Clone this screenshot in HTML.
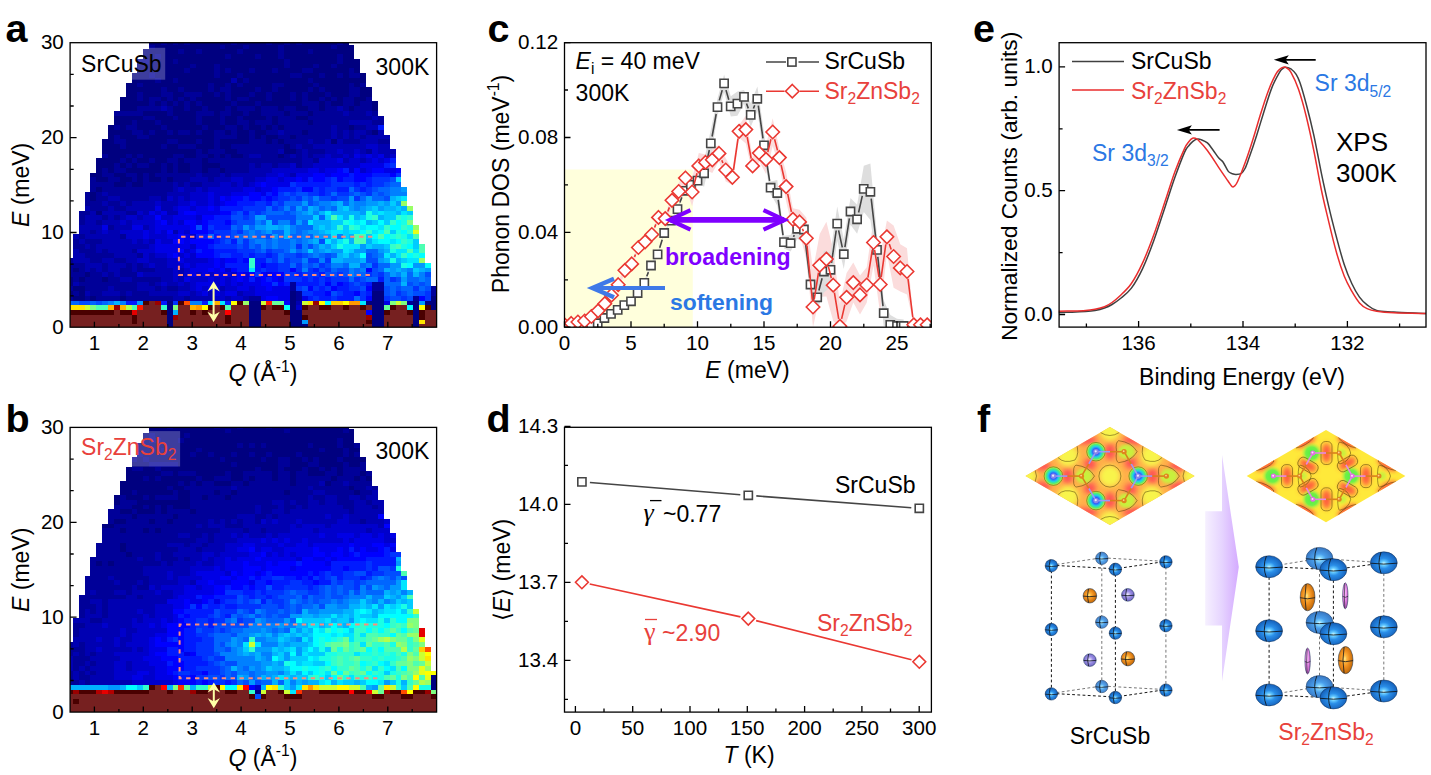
<!DOCTYPE html>
<html><head><meta charset="utf-8"><title>figure</title>
<style>
html,body{margin:0;padding:0;background:#fff;overflow:hidden}
svg{display:block}
text{font-family:"Liberation Sans",sans-serif}
</style></head><body>
<svg width="1431" height="775" viewBox="0 0 1431 775">
<rect width="1431" height="775" fill="#fff"/>
<!-- panel a -->
<clipPath id="hc1"><rect x="70.1" y="42.7" width="366.5" height="284.5"/></clipPath>
<g clip-path="url(#hc1)" shape-rendering="crispEdges">
<path fill="#000080" d="M167 324h6v5h-6zM249 324h12v5h-12zM290 324h18v5h-18zM372 324h12v5h-12zM413 324h6v5h-6zM167 320h6v4h-6zM249 320h12v4h-12zM290 320h12v4h-12zM372 320h12v4h-12zM413 320h6v4h-6zM167 315h6v5h-6zM249 315h12v5h-12zM290 315h12v5h-12zM372 315h12v5h-12zM413 315h6v5h-6zM167 310h6v5h-6zM249 310h12v5h-12zM290 310h12v5h-12zM372 310h12v5h-12zM413 310h6v5h-6zM167 305h6v5h-6zM249 305h12v5h-12zM290 305h6v5h-6zM372 305h12v5h-12zM413 305h6v5h-6zM431 305h6v5h-6zM167 301h6v4h-6zM249 301h12v4h-12zM290 301h6v4h-6zM366 301h18v4h-18zM413 301h6v4h-6zM425 301h12v4h-12zM73 296h12v5h-12zM90 296h6v5h-6zM120 296h6v5h-6zM290 296h6v5h-6zM372 296h12v5h-12zM431 296h6v5h-6zM67 291h6v5h-6zM79 291h6v5h-6zM290 291h6v5h-6zM372 291h12v5h-12zM73 286h12v5h-12zM67 282h6v4h-6zM67 277h6v5h-6zM79 277h6v5h-6zM102 277h6v5h-6zM85 272h5v5h-5zM73 268h6v4h-6zM96 211h6v4h-6zM90 196h6v5h-6zM90 192h6v4h-6zM96 187h6v5h-6zM114 182h12v5h-12zM132 182h11v5h-11zM96 177h12v5h-12zM120 177h12v5h-12zM137 177h6v5h-6zM149 177h12v5h-12zM167 177h6v5h-6zM90 173h12v4h-12zM114 173h12v4h-12zM137 173h6v4h-6zM149 173h6v4h-6zM96 168h6v5h-6zM108 168h6v5h-6zM126 168h35v5h-35zM167 168h6v5h-6zM178 168h12v5h-12zM202 168h6v5h-6zM220 168h5v5h-5zM96 163h18v5h-18zM120 163h6v5h-6zM132 163h5v5h-5zM149 163h12v5h-12zM167 163h6v5h-6zM178 163h12v5h-12zM202 163h18v5h-18zM96 158h24v5h-24zM126 158h6v5h-6zM137 158h12v5h-12zM155 158h12v5h-12zM178 158h6v5h-6zM202 158h6v5h-6zM108 154h18v4h-18zM132 154h5v4h-5zM143 154h30v4h-30zM184 154h12v4h-12zM208 154h6v4h-6zM220 154h5v4h-5zM231 154h12v4h-12zM278 154h6v4h-6zM102 149h94v5h-94zM202 149h6v5h-6zM225 149h12v5h-12zM284 149h12v5h-12zM102 144h18v5h-18zM126 144h35v5h-35zM167 144h11v5h-11zM196 144h18v5h-18zM220 144h11v5h-11zM284 144h6v5h-6zM102 139h12v5h-12zM126 139h41v5h-41zM178 139h18v5h-18zM202 139h12v5h-12zM220 139h29v5h-29zM266 139h6v5h-6zM278 139h6v5h-6zM331 139h6v5h-6zM108 135h6v4h-6zM120 135h17v4h-17zM149 135h65v4h-65zM237 135h12v4h-12zM255 135h6v4h-6zM266 135h12v4h-12zM290 135h6v4h-6zM108 130h24v5h-24zM143 130h6v5h-6zM155 130h12v5h-12zM173 130h5v5h-5zM190 130h6v5h-6zM202 130h12v5h-12zM225 130h6v5h-6zM237 130h12v5h-12zM255 130h11v5h-11zM302 130h6v5h-6zM372 130h6v5h-6zM108 125h6v5h-6zM120 125h6v5h-6zM137 125h24v5h-24zM167 125h35v5h-35zM208 125h17v5h-17zM237 125h6v5h-6zM249 125h12v5h-12zM266 125h6v5h-6zM278 125h6v5h-6zM349 125h5v5h-5zM114 120h18v5h-18zM137 120h18v5h-18zM161 120h35v5h-35zM202 120h18v5h-18zM225 120h12v5h-12zM249 120h6v5h-6zM272 120h6v5h-6zM308 120h5v5h-5zM114 116h29v4h-29zM155 116h18v4h-18zM178 116h18v4h-18zM202 116h18v4h-18zM225 116h12v4h-12zM243 116h23v4h-23zM272 116h6v4h-6zM296 116h12v4h-12zM143 111h24v5h-24zM173 111h23v5h-23zM214 111h6v5h-6zM231 111h12v5h-12zM249 111h12v5h-12zM284 111h6v5h-6zM308 111h5v5h-5zM120 106h17v5h-17zM173 106h11v5h-11zM190 106h12v5h-12zM208 106h17v5h-17zM231 106h6v5h-6zM255 106h6v5h-6zM278 106h6v5h-6zM296 106h12v5h-12zM319 106h6v5h-6zM349 106h5v5h-5zM372 106h6v5h-6zM120 101h29v5h-29zM155 101h6v5h-6zM167 101h6v5h-6zM178 101h6v5h-6zM190 101h6v5h-6zM202 101h29v5h-29zM237 101h18v5h-18zM261 101h41v5h-41zM319 101h6v5h-6zM331 101h12v5h-12zM354 101h6v5h-6zM372 101h6v5h-6zM120 97h17v4h-17zM143 97h6v4h-6zM161 97h6v4h-6zM173 97h5v4h-5zM184 97h6v4h-6zM196 97h29v4h-29zM231 97h6v4h-6zM249 97h17v4h-17zM272 97h18v4h-18zM296 97h6v4h-6zM308 97h11v4h-11zM325 97h6v4h-6zM337 97h6v4h-6zM354 97h12v4h-12zM126 92h11v5h-11zM143 92h18v5h-18zM173 92h11v5h-11zM202 92h12v5h-12zM220 92h5v5h-5zM231 92h18v5h-18zM255 92h11v5h-11zM272 92h18v5h-18zM296 92h6v5h-6zM308 92h17v5h-17zM331 92h18v5h-18zM360 92h12v5h-12zM126 87h35v5h-35zM167 87h11v5h-11zM184 87h24v5h-24zM214 87h6v5h-6zM231 87h24v5h-24zM261 87h11v5h-11zM278 87h30v5h-30zM313 87h6v5h-6zM325 87h24v5h-24zM360 87h12v5h-12zM126 83h11v4h-11zM143 83h65v4h-65zM214 83h11v4h-11zM231 83h6v4h-6zM243 83h29v4h-29zM284 83h29v4h-29zM319 83h30v4h-30zM354 83h6v4h-6zM132 78h23v5h-23zM161 78h12v5h-12zM178 78h53v5h-53zM237 78h6v5h-6zM249 78h59v5h-59zM313 78h53v5h-53zM132 73h17v5h-17zM155 73h59v5h-59zM220 73h17v5h-17zM243 73h47v5h-47zM302 73h17v5h-17zM325 73h12v5h-12zM343 73h6v5h-6zM360 73h6v5h-6zM137 68h47v5h-47zM190 68h24v5h-24zM220 68h5v5h-5zM231 68h18v5h-18zM255 68h17v5h-17zM278 68h24v5h-24zM313 68h36v5h-36zM354 68h6v5h-6zM137 64h53v4h-53zM196 64h18v4h-18zM220 64h64v4h-64zM290 64h23v4h-23zM319 64h12v4h-12zM337 64h23v4h-23zM149 59h24v5h-24zM178 59h106v5h-106zM290 59h47v5h-47zM343 59h17v5h-17zM143 54h12v5h-12zM161 54h64v5h-64zM231 54h24v5h-24zM261 54h17v5h-17zM284 54h53v5h-53zM343 54h11v5h-11zM143 49h35v5h-35zM184 49h12v5h-12zM202 49h35v5h-35zM243 49h35v5h-35zM284 49h24v5h-24zM313 49h41v5h-41zM155 45h65v4h-65zM225 45h18v4h-18zM249 45h29v4h-29zM284 45h47v4h-47zM337 45h17v4h-17zM149 40h12v5h-12zM167 40h6v5h-6zM178 40h6v5h-6zM190 40h41v5h-41zM237 40h29v5h-29zM272 40h12v5h-12zM290 40h6v5h-6zM302 40h35v5h-35zM343 40h6v5h-6z"/>
<path fill="#000099" d="M407 301h6v4h-6zM67 296h6v5h-6zM85 296h5v5h-5zM96 296h24v5h-24zM126 296h47v5h-47zM184 296h6v5h-6zM249 296h12v5h-12zM296 296h6v5h-6zM413 296h6v5h-6zM73 291h6v5h-6zM90 291h12v5h-12zM120 291h6v5h-6zM132 291h17v5h-17zM296 291h6v5h-6zM431 291h6v5h-6zM67 286h6v5h-6zM85 286h23v5h-23zM114 286h23v5h-23zM155 286h6v5h-6zM167 286h11v5h-11zM290 286h6v5h-6zM372 286h12v5h-12zM431 286h6v5h-6zM79 282h58v4h-58zM149 282h6v4h-6zM290 282h6v4h-6zM372 282h12v4h-12zM73 277h6v5h-6zM85 277h17v5h-17zM108 277h12v5h-12zM132 277h29v5h-29zM67 272h18v5h-18zM90 272h12v5h-12zM108 272h6v5h-6zM120 272h17v5h-17zM67 268h6v4h-6zM79 268h6v4h-6zM90 268h6v4h-6zM102 268h6v4h-6zM120 268h12v4h-12zM137 268h18v4h-18zM67 263h18v5h-18zM102 263h6v5h-6zM126 263h6v5h-6zM137 263h6v5h-6zM67 258h6v5h-6zM90 258h12v5h-12zM114 258h12v5h-12zM85 253h29v5h-29zM137 253h6v5h-6zM79 249h17v4h-17zM102 249h6v4h-6zM132 249h5v4h-5zM73 244h12v5h-12zM90 244h6v5h-6zM73 239h6v5h-6zM85 239h17v5h-17zM79 234h6v5h-6zM120 234h6v5h-6zM90 230h6v4h-6zM108 225h6v5h-6zM79 220h6v5h-6zM96 220h6v5h-6zM79 215h6v5h-6zM102 215h6v5h-6zM114 215h6v5h-6zM79 211h11v4h-11zM126 211h11v4h-11zM90 206h18v5h-18zM114 206h12v5h-12zM85 201h17v5h-17zM108 201h12v5h-12zM126 201h6v5h-6zM85 196h5v5h-5zM96 196h12v5h-12zM120 196h29v5h-29zM161 196h6v5h-6zM85 192h5v4h-5zM96 192h6v4h-6zM108 192h59v4h-59zM90 187h6v5h-6zM102 187h71v5h-71zM90 182h24v5h-24zM126 182h6v5h-6zM143 182h30v5h-30zM178 182h6v5h-6zM190 182h12v5h-12zM90 177h6v5h-6zM108 177h12v5h-12zM132 177h5v5h-5zM143 177h6v5h-6zM161 177h6v5h-6zM173 177h17v5h-17zM208 177h6v5h-6zM102 173h12v4h-12zM126 173h11v4h-11zM143 173h6v4h-6zM155 173h41v4h-41zM202 173h18v4h-18zM225 173h6v4h-6zM102 168h6v5h-6zM114 168h12v5h-12zM161 168h6v5h-6zM173 168h5v5h-5zM190 168h12v5h-12zM208 168h12v5h-12zM225 168h24v5h-24zM114 163h6v5h-6zM126 163h6v5h-6zM137 163h12v5h-12zM161 163h6v5h-6zM173 163h5v5h-5zM190 163h12v5h-12zM220 163h29v5h-29zM255 163h6v5h-6zM272 163h6v5h-6zM296 163h6v5h-6zM120 158h6v5h-6zM132 158h5v5h-5zM149 158h6v5h-6zM167 158h11v5h-11zM184 158h18v5h-18zM208 158h94v5h-94zM313 158h6v5h-6zM102 154h6v4h-6zM126 154h6v4h-6zM137 154h6v4h-6zM173 154h11v4h-11zM196 154h12v4h-12zM214 154h6v4h-6zM225 154h6v4h-6zM243 154h6v4h-6zM261 154h17v4h-17zM284 154h6v4h-6zM296 154h6v4h-6zM308 154h5v4h-5zM196 149h6v5h-6zM208 149h17v5h-17zM237 149h41v5h-41zM296 149h6v5h-6zM308 149h17v5h-17zM366 149h6v5h-6zM120 144h6v5h-6zM161 144h6v5h-6zM178 144h18v5h-18zM214 144h6v5h-6zM231 144h53v5h-53zM290 144h6v5h-6zM302 144h11v5h-11zM114 139h12v5h-12zM167 139h11v5h-11zM196 139h6v5h-6zM214 139h6v5h-6zM249 139h17v5h-17zM272 139h6v5h-6zM284 139h24v5h-24zM313 139h12v5h-12zM343 139h17v5h-17zM378 139h12v5h-12zM114 135h6v4h-6zM137 135h12v4h-12zM214 135h23v4h-23zM249 135h6v4h-6zM261 135h5v4h-5zM278 135h12v4h-12zM296 135h35v4h-35zM337 135h6v4h-6zM349 135h5v4h-5zM360 135h6v4h-6zM132 130h11v5h-11zM149 130h6v5h-6zM167 130h6v5h-6zM178 130h12v5h-12zM196 130h6v5h-6zM214 130h11v5h-11zM231 130h6v5h-6zM249 130h6v5h-6zM266 130h12v5h-12zM284 130h18v5h-18zM308 130h23v5h-23zM337 130h6v5h-6zM349 130h5v5h-5zM366 130h6v5h-6zM114 125h6v5h-6zM126 125h11v5h-11zM161 125h6v5h-6zM202 125h6v5h-6zM225 125h12v5h-12zM243 125h6v5h-6zM261 125h5v5h-5zM272 125h6v5h-6zM284 125h47v5h-47zM337 125h12v5h-12zM354 125h12v5h-12zM132 120h5v5h-5zM155 120h6v5h-6zM196 120h6v5h-6zM220 120h5v5h-5zM237 120h12v5h-12zM255 120h17v5h-17zM278 120h30v5h-30zM313 120h36v5h-36zM372 120h12v5h-12zM143 116h12v4h-12zM173 116h5v4h-5zM196 116h6v4h-6zM220 116h5v4h-5zM237 116h6v4h-6zM266 116h6v4h-6zM278 116h18v4h-18zM308 116h64v4h-64zM378 116h6v4h-6zM114 111h29v5h-29zM167 111h6v5h-6zM196 111h18v5h-18zM220 111h11v5h-11zM243 111h6v5h-6zM261 111h23v5h-23zM290 111h18v5h-18zM313 111h30v5h-30zM349 111h17v5h-17zM372 111h6v5h-6zM137 106h24v5h-24zM167 106h6v5h-6zM184 106h6v5h-6zM202 106h6v5h-6zM225 106h6v5h-6zM237 106h18v5h-18zM261 106h17v5h-17zM284 106h12v5h-12zM308 106h11v5h-11zM325 106h12v5h-12zM343 106h6v5h-6zM354 106h18v5h-18zM149 101h6v5h-6zM161 101h6v5h-6zM173 101h5v5h-5zM184 101h6v5h-6zM196 101h6v5h-6zM231 101h6v5h-6zM255 101h6v5h-6zM302 101h17v5h-17zM325 101h6v5h-6zM343 101h11v5h-11zM360 101h12v5h-12zM137 97h6v4h-6zM149 97h12v4h-12zM167 97h6v4h-6zM178 97h6v4h-6zM190 97h6v4h-6zM225 97h6v4h-6zM237 97h12v4h-12zM266 97h6v4h-6zM290 97h6v4h-6zM302 97h6v4h-6zM319 97h6v4h-6zM331 97h6v4h-6zM343 97h11v4h-11zM366 97h6v4h-6zM137 92h6v5h-6zM161 92h12v5h-12zM184 92h18v5h-18zM214 92h6v5h-6zM225 92h6v5h-6zM249 92h6v5h-6zM266 92h6v5h-6zM290 92h6v5h-6zM302 92h6v5h-6zM325 92h6v5h-6zM349 92h11v5h-11zM161 87h6v5h-6zM178 87h6v5h-6zM208 87h6v5h-6zM220 87h11v5h-11zM255 87h6v5h-6zM272 87h6v5h-6zM308 87h5v5h-5zM319 87h6v5h-6zM349 87h11v5h-11zM137 83h6v4h-6zM208 83h6v4h-6zM225 83h6v4h-6zM237 83h6v4h-6zM272 83h12v4h-12zM313 83h6v4h-6zM349 83h5v4h-5zM360 83h6v4h-6zM155 78h6v5h-6zM173 78h5v5h-5zM243 78h6v5h-6zM308 78h5v5h-5zM149 73h6v5h-6zM214 73h6v5h-6zM237 73h6v5h-6zM290 73h12v5h-12zM319 73h6v5h-6zM337 73h6v5h-6zM349 73h11v5h-11zM184 68h6v5h-6zM214 68h6v5h-6zM225 68h6v5h-6zM249 68h6v5h-6zM272 68h6v5h-6zM302 68h11v5h-11zM349 68h5v5h-5zM190 64h6v4h-6zM214 64h6v4h-6zM284 64h6v4h-6zM313 64h6v4h-6zM331 64h6v4h-6zM137 59h12v5h-12zM173 59h5v5h-5zM284 59h6v5h-6zM337 59h6v5h-6zM155 54h6v5h-6zM225 54h6v5h-6zM255 54h6v5h-6zM278 54h6v5h-6zM337 54h6v5h-6zM178 49h6v5h-6zM196 49h6v5h-6zM237 49h6v5h-6zM278 49h6v5h-6zM308 49h5v5h-5zM149 45h6v4h-6zM220 45h5v4h-5zM243 45h6v4h-6zM278 45h6v4h-6zM331 45h6v4h-6zM161 40h6v5h-6zM173 40h5v5h-5zM184 40h6v5h-6zM231 40h6v5h-6zM266 40h6v5h-6zM284 40h6v5h-6zM296 40h6v5h-6zM337 40h6v5h-6z"/>
<path fill="#0000b2" d="M296 301h6v4h-6zM173 296h11v5h-11zM190 296h24v5h-24zM225 296h6v5h-6zM243 296h6v5h-6zM85 291h5v5h-5zM102 291h18v5h-18zM126 291h6v5h-6zM149 291h29v5h-29zM190 291h6v5h-6zM208 291h6v5h-6zM237 291h6v5h-6zM108 286h6v5h-6zM137 286h18v5h-18zM161 286h6v5h-6zM178 286h12v5h-12zM220 286h5v5h-5zM73 282h6v4h-6zM137 282h12v4h-12zM155 282h6v4h-6zM167 282h11v4h-11zM184 282h6v4h-6zM120 277h12v5h-12zM161 277h12v5h-12zM178 277h6v5h-6zM102 272h6v5h-6zM114 272h6v5h-6zM143 272h30v5h-30zM178 272h6v5h-6zM85 268h5v4h-5zM96 268h6v4h-6zM108 268h12v4h-12zM132 268h5v4h-5zM155 268h18v4h-18zM178 268h6v4h-6zM85 263h17v5h-17zM108 263h18v5h-18zM132 263h5v5h-5zM143 263h6v5h-6zM155 263h12v5h-12zM73 258h17v5h-17zM102 258h12v5h-12zM126 258h11v5h-11zM149 258h18v5h-18zM73 253h12v5h-12zM114 253h23v5h-23zM149 253h6v5h-6zM73 249h6v4h-6zM96 249h6v4h-6zM108 249h24v4h-24zM85 244h5v5h-5zM96 244h53v5h-53zM79 239h6v5h-6zM102 239h30v5h-30zM137 239h6v5h-6zM149 239h6v5h-6zM73 234h6v5h-6zM85 234h35v5h-35zM79 230h11v4h-11zM96 230h6v4h-6zM108 230h12v4h-12zM173 230h5v4h-5zM79 225h23v5h-23zM114 225h18v5h-18zM143 225h6v5h-6zM85 220h11v5h-11zM102 220h18v5h-18zM126 220h6v5h-6zM85 215h17v5h-17zM108 215h6v5h-6zM120 215h6v5h-6zM137 215h6v5h-6zM90 211h6v4h-6zM102 211h24v4h-24zM143 211h6v4h-6zM167 211h11v4h-11zM85 206h5v5h-5zM108 206h6v5h-6zM126 206h29v5h-29zM161 206h12v5h-12zM102 201h6v5h-6zM120 201h6v5h-6zM132 201h23v5h-23zM161 201h17v5h-17zM108 196h12v5h-12zM149 196h12v5h-12zM173 196h5v5h-5zM184 196h6v5h-6zM102 192h6v4h-6zM167 192h23v4h-23zM173 187h5v5h-5zM184 187h12v5h-12zM202 187h6v5h-6zM173 182h5v5h-5zM184 182h6v5h-6zM202 182h18v5h-18zM231 182h6v5h-6zM243 182h6v5h-6zM190 177h18v5h-18zM214 177h17v5h-17zM243 177h12v5h-12zM196 173h6v4h-6zM220 173h5v4h-5zM231 173h35v4h-35zM290 173h6v4h-6zM249 168h23v5h-23zM249 163h6v5h-6zM261 163h11v5h-11zM278 163h12v5h-12zM302 163h11v5h-11zM302 158h11v5h-11zM343 158h6v5h-6zM360 158h6v5h-6zM249 154h12v4h-12zM290 154h6v4h-6zM302 154h6v4h-6zM313 154h12v4h-12zM331 154h12v4h-12zM349 154h5v4h-5zM384 154h6v4h-6zM278 149h6v5h-6zM302 149h6v5h-6zM325 149h12v5h-12zM343 149h11v5h-11zM360 149h6v5h-6zM378 149h18v5h-18zM296 144h6v5h-6zM313 144h53v5h-53zM378 144h12v5h-12zM308 139h5v5h-5zM325 139h6v5h-6zM337 139h6v5h-6zM360 139h18v5h-18zM331 135h6v4h-6zM343 135h6v4h-6zM354 135h6v4h-6zM366 135h24v4h-24zM278 130h6v5h-6zM331 130h6v5h-6zM343 130h6v5h-6zM354 130h12v5h-12zM378 130h6v5h-6zM331 125h6v5h-6zM366 125h12v5h-12zM349 120h23v5h-23zM372 116h6v4h-6zM343 111h6v5h-6zM366 111h6v5h-6zM161 106h6v5h-6zM337 106h6v5h-6zM231 78h6v5h-6z"/>
<path fill="#0000cc" d="M296 305h6v5h-6zM214 296h11v5h-11zM231 296h12v5h-12zM178 291h12v5h-12zM196 291h6v5h-6zM220 291h5v5h-5zM243 291h12v5h-12zM190 286h6v5h-6zM202 286h6v5h-6zM214 286h6v5h-6zM225 286h12v5h-12zM249 286h6v5h-6zM161 282h6v4h-6zM178 282h6v4h-6zM190 282h6v4h-6zM214 282h6v4h-6zM225 282h6v4h-6zM237 282h6v4h-6zM173 277h5v5h-5zM190 277h18v5h-18zM214 277h6v5h-6zM225 277h6v5h-6zM137 272h6v5h-6zM173 272h5v5h-5zM184 272h6v5h-6zM196 272h6v5h-6zM208 272h6v5h-6zM231 272h6v5h-6zM173 268h5v4h-5zM184 268h6v4h-6zM225 268h6v4h-6zM149 263h6v5h-6zM167 263h17v5h-17zM190 263h6v5h-6zM137 258h12v5h-12zM167 258h11v5h-11zM184 258h24v5h-24zM143 253h6v5h-6zM155 253h12v5h-12zM178 253h6v5h-6zM190 253h6v5h-6zM137 249h18v4h-18zM184 249h6v4h-6zM149 244h6v5h-6zM190 244h6v5h-6zM132 239h5v5h-5zM143 239h6v5h-6zM161 239h12v5h-12zM126 234h17v5h-17zM149 234h18v5h-18zM190 234h6v5h-6zM102 230h6v4h-6zM120 230h23v4h-23zM149 230h6v4h-6zM161 230h6v4h-6zM184 230h6v4h-6zM149 225h6v5h-6zM120 220h6v5h-6zM132 220h23v5h-23zM167 220h6v5h-6zM178 220h6v5h-6zM126 215h11v5h-11zM143 215h12v5h-12zM161 215h12v5h-12zM196 215h6v5h-6zM137 211h6v4h-6zM155 211h6v4h-6zM173 206h5v5h-5zM190 206h6v5h-6zM155 201h6v5h-6zM178 201h12v5h-12zM196 201h12v5h-12zM214 201h6v5h-6zM167 196h6v5h-6zM178 196h6v5h-6zM190 196h18v5h-18zM214 196h6v5h-6zM190 192h18v4h-18zM214 192h17v4h-17zM178 187h6v5h-6zM196 187h6v5h-6zM208 187h35v5h-35zM255 187h6v5h-6zM220 182h11v5h-11zM237 182h6v5h-6zM249 182h6v5h-6zM231 177h12v5h-12zM255 177h11v5h-11zM278 177h6v5h-6zM266 173h12v4h-12zM284 173h6v4h-6zM272 168h36v5h-36zM319 168h6v5h-6zM349 168h5v5h-5zM360 168h6v5h-6zM290 163h6v5h-6zM313 163h47v5h-47zM319 158h18v5h-18zM349 158h11v5h-11zM366 158h6v5h-6zM378 158h6v5h-6zM325 154h6v4h-6zM343 154h6v4h-6zM360 154h6v4h-6zM372 154h6v4h-6zM390 154h6v4h-6zM337 149h6v5h-6zM354 149h6v5h-6zM372 149h6v5h-6zM366 144h12v5h-12z"/>
<path fill="#0000e6" d="M384 301h6v4h-6zM261 296h5v5h-5zM278 296h12v5h-12zM302 296h6v5h-6zM202 291h6v5h-6zM214 291h6v5h-6zM225 291h12v5h-12zM255 291h35v5h-35zM196 286h6v5h-6zM208 286h6v5h-6zM237 286h12v5h-12zM255 286h11v5h-11zM272 286h18v5h-18zM196 282h18v4h-18zM220 282h5v4h-5zM231 282h6v4h-6zM243 282h18v4h-18zM184 277h6v5h-6zM208 277h6v5h-6zM220 277h5v5h-5zM231 277h6v5h-6zM243 277h6v5h-6zM255 277h6v5h-6zM278 277h6v5h-6zM190 272h6v5h-6zM202 272h6v5h-6zM214 272h17v5h-17zM243 272h6v5h-6zM266 272h6v5h-6zM190 268h18v4h-18zM214 268h6v4h-6zM184 263h6v5h-6zM196 263h18v5h-18zM220 263h5v5h-5zM178 258h6v5h-6zM208 258h6v5h-6zM220 258h5v5h-5zM167 253h6v5h-6zM184 253h6v5h-6zM155 249h23v4h-23zM190 249h6v4h-6zM155 244h35v5h-35zM155 239h6v5h-6zM184 239h6v5h-6zM143 234h6v5h-6zM167 234h11v5h-11zM184 234h6v5h-6zM143 230h6v4h-6zM155 230h6v4h-6zM178 230h6v4h-6zM102 225h6v5h-6zM132 225h11v5h-11zM155 225h35v5h-35zM155 220h6v5h-6zM173 220h5v5h-5zM196 220h6v5h-6zM173 215h23v5h-23zM149 211h6v4h-6zM161 211h6v4h-6zM178 211h6v4h-6zM196 211h24v4h-24zM155 206h6v5h-6zM178 206h12v5h-12zM196 206h12v5h-12zM214 206h6v5h-6zM190 201h6v5h-6zM208 201h6v5h-6zM220 201h5v5h-5zM208 196h6v5h-6zM225 196h6v5h-6zM208 192h6v4h-6zM231 192h18v4h-18zM261 192h5v4h-5zM243 187h12v5h-12zM261 187h11v5h-11zM255 182h6v5h-6zM266 182h24v5h-24zM266 177h12v5h-12zM284 177h12v5h-12zM302 177h6v5h-6zM278 173h6v4h-6zM296 173h17v4h-17zM325 173h6v4h-6zM308 168h11v5h-11zM325 168h12v5h-12zM366 168h6v5h-6zM384 168h12v5h-12zM360 163h24v5h-24zM337 158h6v5h-6zM372 158h6v5h-6zM384 158h6v5h-6zM354 154h6v4h-6zM366 154h6v4h-6zM378 154h6v4h-6z"/>
<path fill="#0000ff" d="M366 310h6v5h-6zM284 301h6v4h-6zM266 296h12v5h-12zM366 296h6v5h-6zM419 296h6v5h-6zM325 291h6v5h-6zM354 291h6v5h-6zM266 286h6v5h-6zM308 286h5v5h-5zM331 286h6v5h-6zM366 286h6v5h-6zM261 282h11v4h-11zM278 282h6v4h-6zM325 282h6v4h-6zM337 282h6v4h-6zM237 277h6v5h-6zM261 277h5v5h-5zM272 277h6v5h-6zM237 272h6v5h-6zM249 272h6v5h-6zM261 272h5v5h-5zM272 272h12v5h-12zM208 268h6v4h-6zM220 268h5v4h-5zM231 268h6v4h-6zM290 268h6v4h-6zM366 268h6v4h-6zM214 263h6v5h-6zM261 263h5v5h-5zM214 258h6v5h-6zM225 258h12v5h-12zM243 258h6v5h-6zM173 253h5v5h-5zM196 253h18v5h-18zM178 249h6v4h-6zM202 249h12v4h-12zM196 244h12v5h-12zM173 239h11v5h-11zM190 239h24v5h-24zM178 234h6v5h-6zM167 230h6v4h-6zM190 230h18v4h-18zM190 225h6v5h-6zM202 225h6v5h-6zM161 220h6v5h-6zM184 220h12v5h-12zM202 220h6v5h-6zM225 220h6v5h-6zM155 215h6v5h-6zM202 215h12v5h-12zM184 211h12v4h-12zM220 211h11v4h-11zM208 206h6v5h-6zM225 201h12v5h-12zM220 196h5v5h-5zM231 196h12v5h-12zM249 196h12v5h-12zM266 196h6v5h-6zM249 192h12v4h-12zM272 192h6v4h-6zM272 187h6v5h-6zM302 187h11v5h-11zM261 182h5v5h-5zM296 177h6v5h-6zM313 177h12v5h-12zM337 177h6v5h-6zM354 177h12v5h-12zM313 173h12v4h-12zM331 173h18v4h-18zM354 173h18v4h-18zM390 173h6v4h-6zM337 168h6v5h-6zM354 168h6v5h-6zM372 168h12v5h-12zM396 168h5v5h-5z"/>
<path fill="#001aff" d="M126 301h11v4h-11zM161 301h6v4h-6zM202 301h6v4h-6zM225 301h6v4h-6zM308 296h5v5h-5zM319 296h12v5h-12zM337 296h17v5h-17zM313 291h12v5h-12zM343 291h11v5h-11zM366 291h6v5h-6zM319 286h6v5h-6zM337 286h12v5h-12zM284 282h6v4h-6zM296 282h23v4h-23zM343 282h6v4h-6zM366 282h6v4h-6zM249 277h6v5h-6zM266 277h6v5h-6zM302 277h6v5h-6zM313 277h6v5h-6zM325 277h6v5h-6zM378 277h6v5h-6zM296 272h6v5h-6zM319 272h6v5h-6zM237 268h12v4h-12zM255 268h6v4h-6zM266 268h12v4h-12zM313 268h6v4h-6zM225 263h24v5h-24zM255 263h6v5h-6zM266 263h12v5h-12zM237 258h6v5h-6zM255 258h11v5h-11zM214 253h6v5h-6zM231 253h12v5h-12zM249 253h6v5h-6zM266 253h6v5h-6zM196 249h6v4h-6zM214 249h23v4h-23zM208 244h6v5h-6zM214 239h6v5h-6zM231 239h6v5h-6zM196 234h12v5h-12zM214 234h6v5h-6zM208 230h6v4h-6zM214 225h17v5h-17zM208 220h17v5h-17zM214 215h17v5h-17zM243 211h6v4h-6zM220 206h23v5h-23zM237 201h18v5h-18zM266 201h6v5h-6zM243 196h6v5h-6zM261 196h5v5h-5zM272 196h6v5h-6zM266 192h6v4h-6zM319 192h6v4h-6zM278 187h18v5h-18zM319 187h6v5h-6zM337 187h12v5h-12zM360 187h6v5h-6zM296 182h35v5h-35zM354 182h6v5h-6zM366 182h6v5h-6zM308 177h5v5h-5zM325 177h6v5h-6zM343 177h11v5h-11zM366 177h6v5h-6zM349 173h5v4h-5zM372 173h18v4h-18zM343 168h6v5h-6zM384 163h6v5h-6zM390 158h6v5h-6zM378 125h6v5h-6z"/>
<path fill="#0033ff" d="M173 301h5v4h-5zM313 296h6v5h-6zM331 296h6v5h-6zM360 296h6v5h-6zM384 296h6v5h-6zM401 296h6v5h-6zM425 296h6v5h-6zM302 291h11v5h-11zM337 291h6v5h-6zM360 291h6v5h-6zM396 291h5v5h-5zM425 291h6v5h-6zM296 286h6v5h-6zM313 286h6v5h-6zM325 286h6v5h-6zM349 286h11v5h-11zM413 286h6v5h-6zM272 282h6v4h-6zM319 282h6v4h-6zM331 282h6v4h-6zM349 282h5v4h-5zM360 282h6v4h-6zM284 277h18v5h-18zM308 277h5v5h-5zM319 277h6v5h-6zM331 277h18v5h-18zM354 277h6v5h-6zM390 277h6v5h-6zM255 272h6v5h-6zM284 272h12v5h-12zM302 272h17v5h-17zM337 272h6v5h-6zM366 272h6v5h-6zM378 272h6v5h-6zM261 268h5v4h-5zM278 268h12v4h-12zM296 268h6v4h-6zM308 268h5v4h-5zM325 268h6v4h-6zM278 263h12v5h-12zM296 263h6v5h-6zM319 263h6v5h-6zM372 263h6v5h-6zM272 258h6v5h-6zM284 258h6v5h-6zM308 258h11v5h-11zM325 258h6v5h-6zM220 253h11v5h-11zM243 253h6v5h-6zM255 253h11v5h-11zM272 253h6v5h-6zM296 253h6v5h-6zM237 249h18v4h-18zM266 249h6v4h-6zM214 244h23v5h-23zM243 244h6v5h-6zM296 244h6v5h-6zM220 239h5v5h-5zM243 239h6v5h-6zM220 234h11v5h-11zM214 230h17v4h-17zM237 230h6v4h-6zM208 225h6v5h-6zM231 220h6v5h-6zM243 215h6v5h-6zM231 211h6v4h-6zM255 211h6v4h-6zM243 206h23v5h-23zM272 206h6v5h-6zM255 201h11v5h-11zM278 201h6v5h-6zM278 196h12v5h-12zM296 196h6v5h-6zM331 196h6v5h-6zM354 196h6v5h-6zM278 192h6v4h-6zM290 192h6v4h-6zM308 192h11v4h-11zM325 192h6v4h-6zM337 192h12v4h-12zM366 192h6v4h-6zM296 187h6v5h-6zM313 187h6v5h-6zM325 187h12v5h-12zM354 187h6v5h-6zM366 187h6v5h-6zM290 182h6v5h-6zM331 182h23v5h-23zM360 182h6v5h-6zM372 182h12v5h-12zM331 177h6v5h-6zM372 177h18v5h-18zM396 173h5v4h-5zM390 163h6v5h-6z"/>
<path fill="#004dff" d="M79 301h11v4h-11zM96 301h6v4h-6zM390 296h11v5h-11zM407 296h6v5h-6zM331 291h6v5h-6zM384 291h6v5h-6zM401 291h6v5h-6zM413 291h12v5h-12zM302 286h6v5h-6zM360 286h6v5h-6zM384 286h6v5h-6zM396 286h5v5h-5zM425 286h6v5h-6zM354 282h6v4h-6zM407 282h6v4h-6zM419 282h6v4h-6zM360 277h6v5h-6zM396 277h5v5h-5zM325 272h12v5h-12zM343 272h6v5h-6zM372 272h6v5h-6zM425 272h6v5h-6zM319 268h6v4h-6zM337 268h12v4h-12zM372 268h6v4h-6zM308 263h5v5h-5zM325 263h6v5h-6zM266 258h6v5h-6zM290 258h12v5h-12zM366 258h12v5h-12zM284 253h12v5h-12zM302 253h6v5h-6zM325 253h6v5h-6zM366 253h6v5h-6zM255 249h6v4h-6zM272 249h12v4h-12zM237 244h6v5h-6zM255 244h6v5h-6zM308 244h5v5h-5zM225 239h6v5h-6zM319 239h6v5h-6zM231 234h6v5h-6zM266 234h6v5h-6zM231 230h6v4h-6zM196 225h6v5h-6zM237 225h6v5h-6zM237 220h18v5h-18zM272 220h6v5h-6zM290 220h6v5h-6zM231 215h12v5h-12zM249 215h6v5h-6zM266 215h30v5h-30zM237 211h6v4h-6zM249 211h6v4h-6zM261 211h5v4h-5zM284 211h6v4h-6zM278 206h6v5h-6zM290 206h6v5h-6zM272 201h6v5h-6zM308 201h5v5h-5zM290 196h6v5h-6zM308 196h5v5h-5zM319 196h12v5h-12zM337 196h12v5h-12zM384 196h6v5h-6zM284 192h6v4h-6zM296 192h12v4h-12zM349 192h5v4h-5zM360 192h6v4h-6zM378 192h6v4h-6zM372 187h6v5h-6zM384 182h6v5h-6zM390 177h6v5h-6z"/>
<path fill="#0066ff" d="M67 301h12v4h-12zM90 301h6v4h-6zM102 301h6v4h-6zM354 296h6v5h-6zM390 291h6v5h-6zM407 291h6v5h-6zM390 286h6v5h-6zM401 286h12v5h-12zM419 286h6v5h-6zM384 282h17v4h-17zM413 282h6v4h-6zM425 282h6v4h-6zM349 277h5v5h-5zM366 277h12v5h-12zM384 277h6v5h-6zM407 277h12v5h-12zM425 277h6v5h-6zM354 272h12v5h-12zM384 272h6v5h-6zM407 272h6v5h-6zM331 268h6v4h-6zM354 268h6v4h-6zM378 268h6v4h-6zM290 263h6v5h-6zM302 263h6v5h-6zM313 263h6v5h-6zM343 263h6v5h-6zM360 263h6v5h-6zM378 263h12v5h-12zM278 258h6v5h-6zM278 253h6v5h-6zM308 253h5v5h-5zM319 253h6v5h-6zM331 253h6v5h-6zM372 253h6v5h-6zM261 249h5v4h-5zM284 249h6v4h-6zM296 249h6v4h-6zM366 249h12v4h-12zM249 244h6v5h-6zM266 244h6v5h-6zM278 244h12v5h-12zM237 239h6v5h-6zM249 239h6v5h-6zM266 239h6v5h-6zM278 239h12v5h-12zM296 239h6v5h-6zM208 234h6v5h-6zM237 234h12v5h-12zM255 234h11v5h-11zM278 234h6v5h-6zM290 234h12v5h-12zM308 234h5v5h-5zM243 230h6v4h-6zM255 230h6v4h-6zM272 230h12v4h-12zM296 230h6v4h-6zM231 225h6v5h-6zM249 225h6v5h-6zM296 225h17v5h-17zM261 220h5v5h-5zM302 220h6v5h-6zM319 215h6v5h-6zM266 211h18v4h-18zM290 211h6v4h-6zM266 206h6v5h-6zM302 206h6v5h-6zM319 206h6v5h-6zM331 206h6v5h-6zM284 201h18v5h-18zM313 201h6v5h-6zM343 201h6v5h-6zM302 196h6v5h-6zM360 196h6v5h-6zM372 196h12v5h-12zM331 192h6v4h-6zM354 192h6v4h-6zM372 192h6v4h-6zM384 192h6v4h-6zM349 187h5v5h-5zM378 187h12v5h-12zM390 182h11v5h-11z"/>
<path fill="#0080ff" d="M108 301h6v4h-6zM120 301h6v4h-6zM190 301h12v4h-12zM419 277h6v5h-6zM349 272h5v5h-5zM396 272h5v5h-5zM419 272h6v5h-6zM302 268h6v4h-6zM349 268h5v4h-5zM360 268h6v4h-6zM407 268h6v4h-6zM331 263h12v5h-12zM366 263h6v5h-6zM302 258h6v5h-6zM319 258h6v5h-6zM313 253h6v5h-6zM378 253h6v5h-6zM302 249h6v4h-6zM313 249h6v4h-6zM261 244h5v5h-5zM272 244h6v5h-6zM290 244h6v5h-6zM302 244h6v5h-6zM313 244h6v5h-6zM255 239h11v5h-11zM272 239h6v5h-6zM290 239h6v5h-6zM302 239h6v5h-6zM249 234h6v5h-6zM302 234h6v5h-6zM337 234h6v5h-6zM249 230h6v4h-6zM261 230h5v4h-5zM290 230h6v4h-6zM302 230h6v4h-6zM290 225h6v5h-6zM255 220h6v5h-6zM278 220h12v5h-12zM296 215h17v5h-17zM296 211h6v4h-6zM313 211h6v4h-6zM284 206h6v5h-6zM325 206h6v5h-6zM354 206h6v5h-6zM319 201h12v5h-12zM354 201h12v5h-12zM313 196h6v5h-6zM390 192h17v4h-17zM390 187h11v5h-11z"/>
<path fill="#0099ff" d="M302 320h6v4h-6zM137 301h6v4h-6zM419 301h6v4h-6zM401 277h6v5h-6zM390 272h6v5h-6zM390 268h6v4h-6zM401 268h6v4h-6zM425 268h6v4h-6zM390 263h11v5h-11zM413 263h12v5h-12zM343 258h17v5h-17zM378 258h6v5h-6zM349 253h5v5h-5zM290 249h6v4h-6zM319 249h6v4h-6zM331 249h12v4h-12zM354 249h12v4h-12zM378 249h6v4h-6zM325 244h6v5h-6zM360 244h6v5h-6zM308 239h5v5h-5zM272 234h6v5h-6zM313 234h18v5h-18zM266 230h6v4h-6zM308 230h11v4h-11zM243 225h6v5h-6zM255 225h11v5h-11zM278 225h6v5h-6zM296 220h6v5h-6zM255 215h11v5h-11zM302 211h6v4h-6zM360 211h6v4h-6zM296 206h6v5h-6zM313 206h6v5h-6zM349 206h5v5h-5zM360 206h6v5h-6zM378 206h6v5h-6zM302 201h6v5h-6zM331 201h6v5h-6zM349 201h5v5h-5zM366 201h12v5h-12zM384 201h6v5h-6zM396 201h5v5h-5zM349 196h5v5h-5zM366 196h6v5h-6zM401 187h6v5h-6z"/>
<path fill="#00b2ff" d="M173 310h5v5h-5zM114 301h6v4h-6zM401 282h6v4h-6zM401 272h6v5h-6zM413 272h6v5h-6zM384 268h6v4h-6zM396 268h5v4h-5zM419 268h6v4h-6zM349 263h11v5h-11zM331 258h12v5h-12zM360 258h6v5h-6zM384 258h6v5h-6zM396 258h5v5h-5zM337 253h6v5h-6zM354 253h6v5h-6zM390 253h6v5h-6zM325 249h6v4h-6zM384 249h6v4h-6zM319 244h6v5h-6zM372 244h12v5h-12zM313 239h6v5h-6zM331 239h6v5h-6zM349 239h5v5h-5zM366 239h6v5h-6zM284 234h6v5h-6zM349 234h5v5h-5zM284 230h6v4h-6zM319 230h6v4h-6zM266 225h12v5h-12zM284 225h6v5h-6zM313 225h6v5h-6zM325 225h6v5h-6zM266 220h6v5h-6zM313 220h18v5h-18zM366 220h6v5h-6zM343 215h6v5h-6zM354 215h6v5h-6zM378 215h6v5h-6zM308 211h5v4h-5zM319 211h6v4h-6zM331 211h29v4h-29zM396 211h5v4h-5zM308 206h5v5h-5zM337 206h6v5h-6zM366 206h6v5h-6zM384 206h12v5h-12zM401 206h6v5h-6zM337 201h6v5h-6zM378 201h6v5h-6zM390 196h6v5h-6z"/>
<path fill="#00ccff" d="M413 268h6v4h-6zM401 258h6v5h-6zM343 253h6v5h-6zM308 249h5v4h-5zM349 249h5v4h-5zM331 244h6v5h-6zM366 244h6v5h-6zM384 244h6v5h-6zM413 244h6v5h-6zM413 239h6v5h-6zM343 234h6v5h-6zM366 234h6v5h-6zM325 230h6v4h-6zM343 230h6v4h-6zM390 230h6v4h-6zM319 225h6v5h-6zM331 225h6v5h-6zM343 225h6v5h-6zM331 220h12v5h-12zM372 220h6v5h-6zM384 220h6v5h-6zM313 215h6v5h-6zM325 215h6v5h-6zM360 215h6v5h-6zM384 215h12v5h-12zM372 211h6v4h-6zM384 211h12v4h-12zM407 211h6v4h-6zM343 206h6v5h-6zM372 206h6v5h-6zM396 206h5v5h-5zM390 201h6v5h-6zM396 196h5v5h-5zM396 177h5v5h-5z"/>
<path fill="#00e5ff" d="M208 301h6v4h-6zM220 301h5v4h-5zM360 301h6v4h-6zM249 268h6v4h-6zM407 258h12v5h-12zM384 253h6v5h-6zM396 253h5v5h-5zM343 249h6v4h-6zM396 249h11v4h-11zM413 249h6v4h-6zM343 244h17v5h-17zM325 239h6v5h-6zM337 239h6v5h-6zM372 239h6v5h-6zM390 239h6v5h-6zM331 234h6v5h-6zM407 234h6v5h-6zM331 230h12v4h-12zM349 230h11v4h-11zM372 230h6v4h-6zM360 225h6v5h-6zM378 225h6v5h-6zM308 220h5v5h-5zM354 220h6v5h-6zM337 215h6v5h-6zM325 211h6v4h-6zM378 211h6v4h-6zM401 211h6v4h-6zM401 196h6v5h-6z"/>
<path fill="#00ffff" d="M284 305h6v5h-6zM407 305h6v5h-6zM325 301h6v4h-6zM407 263h6v5h-6zM425 263h6v5h-6zM360 253h6v5h-6zM407 253h6v5h-6zM419 253h6v5h-6zM407 244h6v5h-6zM378 239h12v5h-12zM396 239h5v5h-5zM372 234h6v5h-6zM384 234h6v5h-6zM360 230h6v4h-6zM378 230h6v4h-6zM401 230h6v4h-6zM366 225h12v5h-12zM390 225h11v5h-11zM349 220h5v5h-5zM360 220h6v5h-6zM378 220h6v5h-6zM396 220h5v5h-5z"/>
<path fill="#1affe5" d="M401 263h6v5h-6zM390 258h6v5h-6zM413 253h6v5h-6zM390 249h6v4h-6zM337 244h6v5h-6zM401 244h6v5h-6zM343 239h6v5h-6zM407 239h6v5h-6zM390 234h6v5h-6zM401 234h6v5h-6zM396 230h5v4h-5zM354 225h6v5h-6zM407 225h6v5h-6zM343 220h6v5h-6zM401 220h6v5h-6zM349 215h5v5h-5zM366 215h6v5h-6zM401 215h6v5h-6zM366 211h6v4h-6z"/>
<path fill="#33ffcc" d="M161 305h6v5h-6zM249 263h6v5h-6zM249 258h6v5h-6zM401 253h6v5h-6zM390 244h6v5h-6zM401 239h6v5h-6zM396 234h5v5h-5zM366 230h6v4h-6zM407 230h6v4h-6zM337 225h6v5h-6zM349 225h5v5h-5zM384 225h6v5h-6zM401 225h6v5h-6zM390 220h6v5h-6zM372 215h6v5h-6zM396 215h5v5h-5zM407 215h6v5h-6z"/>
<path fill="#4dffb2" d="M96 305h12v5h-12zM132 305h5v5h-5zM225 305h6v5h-6zM407 249h6v4h-6zM419 249h6v4h-6zM396 244h5v5h-5zM419 244h6v5h-6zM354 239h12v5h-12zM354 234h12v5h-12zM378 234h6v5h-6zM413 234h6v5h-6zM384 230h6v4h-6zM331 215h6v5h-6z"/>
<path fill="#66ff99" d="M384 305h6v5h-6zM272 301h12v4h-12z"/>
<path fill="#80ff80" d="M90 305h6v5h-6zM173 305h5v5h-5zM390 301h6v4h-6zM401 301h6v4h-6zM407 220h6v5h-6z"/>
<path fill="#99ff66" d="M243 301h6v4h-6zM419 258h6v5h-6zM413 225h6v5h-6zM407 206h6v5h-6zM401 201h6v5h-6z"/>
<path fill="#b3ff4c" d="M126 305h6v5h-6z"/>
<path fill="#ccff33" d="M85 305h5v5h-5zM261 301h5v4h-5zM302 301h6v4h-6zM396 301h5v4h-5z"/>
<path fill="#e5ff1a" d="M413 230h6v4h-6z"/>
<path fill="#ffff00" d="M202 305h6v5h-6zM419 305h6v5h-6zM231 301h6v4h-6zM319 301h6v4h-6zM343 301h6v4h-6z"/>
<path fill="#ffe500" d="M419 320h6v4h-6zM67 305h18v5h-18zM308 301h5v4h-5z"/>
<path fill="#ffcc00" d="M331 301h12v4h-12z"/>
<path fill="#ffb300" d="M108 305h6v5h-6zM120 305h6v5h-6zM190 305h6v5h-6zM214 301h6v4h-6z"/>
<path fill="#ff9900" d="M196 305h6v5h-6zM349 301h11v4h-11z"/>
<path fill="#ff4c00" d="M184 301h6v4h-6z"/>
<path fill="#ff1a00" d="M137 305h6v5h-6zM266 301h6v4h-6z"/>
<path fill="#ff0000" d="M225 310h6v5h-6z"/>
<path fill="#e50000" d="M132 310h5v5h-5z"/>
<path fill="#990000" d="M173 315h5v5h-5zM366 315h6v5h-6zM114 305h6v5h-6zM155 301h6v4h-6zM313 301h6v4h-6z"/>
<path fill="#4a0000" d="M132 320h5v4h-5zM225 320h6v4h-6zM366 320h6v4h-6zM132 315h5v5h-5zM225 315h6v5h-6zM302 315h6v5h-6zM419 315h6v5h-6zM67 310h47v5h-47zM120 310h12v5h-12zM161 310h6v5h-6zM190 310h6v5h-6zM202 310h6v5h-6zM284 310h6v5h-6zM384 310h6v5h-6zM407 310h6v5h-6zM419 310h6v5h-6zM208 305h6v5h-6zM220 305h5v5h-5zM261 305h5v5h-5zM272 305h12v5h-12zM302 305h6v5h-6zM319 305h12v5h-12zM343 305h6v5h-6zM360 305h6v5h-6zM390 305h6v5h-6zM425 305h6v5h-6zM143 301h6v4h-6zM178 301h6v4h-6zM237 301h6v4h-6z"/>
<path fill="#762020" d="M67 324h100v5h-100zM173 324h76v5h-76zM261 324h29v5h-29zM308 324h64v5h-64zM384 324h29v5h-29zM419 324h18v5h-18zM67 320h65v4h-65zM137 320h30v4h-30zM173 320h52v4h-52zM231 320h18v4h-18zM261 320h29v4h-29zM308 320h58v4h-58zM384 320h29v4h-29zM425 320h12v4h-12zM67 315h65v5h-65zM137 315h30v5h-30zM178 315h47v5h-47zM231 315h18v5h-18zM261 315h29v5h-29zM308 315h58v5h-58zM384 315h29v5h-29zM425 315h12v5h-12zM114 310h6v5h-6zM137 310h24v5h-24zM178 310h12v5h-12zM196 310h6v5h-6zM208 310h17v5h-17zM231 310h18v5h-18zM261 310h23v5h-23zM302 310h64v5h-64zM390 310h17v5h-17zM425 310h12v5h-12zM143 305h18v5h-18zM178 305h12v5h-12zM214 305h6v5h-6zM231 305h18v5h-18zM266 305h6v5h-6zM308 305h11v5h-11zM331 305h12v5h-12zM349 305h11v5h-11zM366 305h6v5h-6zM396 305h11v5h-11zM149 301h6v4h-6z"/>
</g>
<rect x="76" y="47.8" width="89.2" height="31.9" fill="#fff" opacity="0.24"/>
<path d="M372.4 236.7H178.9V274.9H372.4" fill="none" stroke="#ff8a7a" stroke-width="2" stroke-dasharray="4.4 4.5"/>
<path d="M213.6 286.2V316.9" stroke="#ffffa6" stroke-width="2" fill="none"/>
<path d="M213.6 281.2l-6.2 10.2l6.2 -3.4l6.2 3.4zM213.6 321.9l-6.2 -10.2l6.2 3.4l6.2 -3.4z" fill="#ffffa6"/>
<rect x="70.1" y="42.7" width="366.5" height="284.5" fill="none" stroke="#000" stroke-width="1.3"/>
<path d="M94.4 327.2v-5.5M143.3 327.2v-5.5M192.2 327.2v-5.5M241.1 327.2v-5.5M290 327.2v-5.5M338.9 327.2v-5.5M387.8 327.2v-5.5" stroke="#000" stroke-width="1.3" fill="none"/>
<path d="M118.9 327.2v-3.2M167.8 327.2v-3.2M216.7 327.2v-3.2M265.6 327.2v-3.2M314.4 327.2v-3.2M363.4 327.2v-3.2M412.2 327.2v-3.2" stroke="#000" stroke-width="1.3" fill="none"/>
<path d="M70.1 232.5h6.5M70.1 137.7h6.5" stroke="#000" stroke-width="1.3" fill="none"/>
<path d="M70.1 295.8h3.6M70.1 264.2h3.6M70.1 200.9h3.6M70.1 169.3h3.6M70.1 106h3.6M70.1 74.4h3.6" stroke="#000" stroke-width="1.3" fill="none"/>
<text x="94.4" y="349.8" font-size="20.6" text-anchor="middle">1</text>
<text x="143.3" y="349.8" font-size="20.6" text-anchor="middle">2</text>
<text x="192.2" y="349.8" font-size="20.6" text-anchor="middle">3</text>
<text x="241.1" y="349.8" font-size="20.6" text-anchor="middle">4</text>
<text x="290" y="349.8" font-size="20.6" text-anchor="middle">5</text>
<text x="338.9" y="349.8" font-size="20.6" text-anchor="middle">6</text>
<text x="387.8" y="349.8" font-size="20.6" text-anchor="middle">7</text>
<text x="63.8" y="333.9" font-size="20.6" text-anchor="end">0</text>
<text x="63.8" y="239" font-size="20.6" text-anchor="end">10</text>
<text x="63.8" y="144.2" font-size="20.6" text-anchor="end">20</text>
<text x="63.8" y="49.3" font-size="20.6" text-anchor="end">30</text>
<text x="5.5" y="42.2" font-size="39.5" font-weight="bold">a</text>
<text x="263" y="381.2" font-size="23" text-anchor="middle"><tspan dy="0" font-style="italic">Q</tspan><tspan dy="0"> (Å</tspan><tspan dy="-9.7" font-size="15.6">-1</tspan><tspan dy="9.7">)</tspan></text>
<text transform="translate(29 184.9) rotate(-90)" font-size="23" text-anchor="middle"><tspan font-style="italic">E</tspan> (meV)</text>
<text x="81.1" y="72" font-size="23"><tspan dy="0">SrCuSb</tspan></text>
<text x="429.3" y="74.5" font-size="23" text-anchor="end">300K</text>
<!-- panel b -->
<clipPath id="hc2"><rect x="70.1" y="427.4" width="366.5" height="284.7"/></clipPath>
<g clip-path="url(#hc2)" shape-rendering="crispEdges">
<path fill="#000080" d="M255 690h6v4h-6zM431 685h6v5h-6zM431 680h6v5h-6zM431 675h6v5h-6zM96 561h6v5h-6zM108 561h6v5h-6zM126 552h6v5h-6zM120 547h6v5h-6zM120 543h6v4h-6zM120 528h6v5h-6zM143 528h6v5h-6zM155 528h6v5h-6zM102 524h12v4h-12zM114 519h12v5h-12zM149 519h6v5h-6zM167 519h6v5h-6zM132 514h5v5h-5zM173 514h5v5h-5zM120 509h12v5h-12zM137 509h18v5h-18zM161 509h6v5h-6zM190 509h6v5h-6zM132 505h11v4h-11zM149 505h6v4h-6zM161 505h6v4h-6zM173 505h17v4h-17zM114 500h6v5h-6zM137 500h53v5h-53zM114 495h6v5h-6zM126 495h17v5h-17zM149 495h6v5h-6zM178 495h12v5h-12zM202 495h6v5h-6zM225 495h6v5h-6zM120 490h12v5h-12zM137 490h36v5h-36zM178 490h12v5h-12zM214 490h6v5h-6zM231 490h6v5h-6zM284 490h6v5h-6zM354 490h6v5h-6zM120 486h47v4h-47zM173 486h11v4h-11zM349 486h5v4h-5zM120 481h58v5h-58zM184 481h6v5h-6zM196 481h6v5h-6zM214 481h17v5h-17zM243 481h6v5h-6zM290 481h6v5h-6zM325 481h6v5h-6zM126 476h17v5h-17zM149 476h6v5h-6zM161 476h35v5h-35zM202 476h12v5h-12zM231 476h12v5h-12zM249 476h6v5h-6zM272 476h6v5h-6zM290 476h6v5h-6zM331 476h6v5h-6zM354 476h6v5h-6zM366 476h6v5h-6zM126 471h35v5h-35zM173 471h5v5h-5zM196 471h29v5h-29zM231 471h12v5h-12zM272 471h6v5h-6zM290 471h6v5h-6zM308 471h17v5h-17zM337 471h6v5h-6zM360 471h6v5h-6zM126 467h6v4h-6zM143 467h12v4h-12zM161 467h94v4h-94zM261 467h17v4h-17zM284 467h18v4h-18zM308 467h11v4h-11zM325 467h6v4h-6zM337 467h6v4h-6zM132 462h17v5h-17zM178 462h53v5h-53zM237 462h41v5h-41zM290 462h18v5h-18zM319 462h24v5h-24zM349 462h11v5h-11zM137 457h6v5h-6zM149 457h71v5h-71zM225 457h36v5h-36zM266 457h12v5h-12zM290 457h12v5h-12zM308 457h5v5h-5zM319 457h18v5h-18zM343 457h23v5h-23zM143 452h47v5h-47zM196 452h12v5h-12zM214 452h17v5h-17zM237 452h12v5h-12zM255 452h11v5h-11zM272 452h24v5h-24zM302 452h41v5h-41zM349 452h5v5h-5zM137 448h24v4h-24zM167 448h29v4h-29zM202 448h117v4h-117zM325 448h18v4h-18zM349 448h11v4h-11zM137 443h100v5h-100zM243 443h6v5h-6zM255 443h6v5h-6zM266 443h42v5h-42zM313 443h24v5h-24zM343 443h11v5h-11zM143 438h6v5h-6zM161 438h17v5h-17zM184 438h153v5h-153zM343 438h11v5h-11zM143 433h6v5h-6zM155 433h29v5h-29zM190 433h164v5h-164zM149 429h76v4h-76zM231 429h53v4h-53zM290 429h53v4h-53zM349 429h5v4h-5zM149 424h18v5h-18zM173 424h41v5h-41zM220 424h17v5h-17zM243 424h23v5h-23zM272 424h77v5h-77z"/>
<path fill="#000099" d="M67 680h12v5h-12zM85 680h5v5h-5zM67 675h6v5h-6zM79 675h11v5h-11zM67 671h6v4h-6zM79 671h6v4h-6zM90 671h6v4h-6zM73 666h6v5h-6zM85 666h5v5h-5zM73 661h12v5h-12zM90 661h6v5h-6zM73 656h17v5h-17zM67 652h6v4h-6zM79 652h6v4h-6zM90 652h6v4h-6zM67 647h18v5h-18zM67 642h6v5h-6zM79 642h6v5h-6zM73 633h6v4h-6zM73 628h6v5h-6zM73 623h12v5h-12zM90 618h12v5h-12zM79 614h6v4h-6zM102 614h6v4h-6zM79 609h6v5h-6zM90 609h6v5h-6zM102 609h6v5h-6zM79 604h17v5h-17zM102 604h6v5h-6zM79 599h11v5h-11zM102 599h6v5h-6zM79 595h47v4h-47zM137 595h6v4h-6zM85 590h5v5h-5zM96 590h18v5h-18zM126 590h6v5h-6zM85 585h47v5h-47zM137 585h12v5h-12zM85 580h29v5h-29zM120 580h17v5h-17zM143 580h6v5h-6zM85 576h23v4h-23zM114 576h35v4h-35zM90 571h53v5h-53zM90 566h53v5h-53zM90 561h6v5h-6zM102 561h6v5h-6zM114 561h47v5h-47zM167 561h6v5h-6zM90 557h47v4h-47zM143 557h12v4h-12zM161 557h17v4h-17zM184 557h6v4h-6zM96 552h30v5h-30zM132 552h23v5h-23zM161 552h12v5h-12zM96 547h24v5h-24zM126 547h52v5h-52zM196 547h6v5h-6zM96 543h24v4h-24zM126 543h41v4h-41zM184 543h6v4h-6zM202 543h6v4h-6zM102 538h94v5h-94zM208 538h6v5h-6zM102 533h76v5h-76zM190 533h12v5h-12zM208 533h6v5h-6zM102 528h18v5h-18zM126 528h17v5h-17zM149 528h6v5h-6zM161 528h59v5h-59zM243 528h6v5h-6zM261 528h5v5h-5zM114 524h82v4h-82zM202 524h6v4h-6zM225 524h18v4h-18zM108 519h6v5h-6zM126 519h23v5h-23zM155 519h12v5h-12zM173 519h35v5h-35zM214 519h6v5h-6zM225 519h6v5h-6zM237 519h6v5h-6zM255 519h6v5h-6zM360 519h6v5h-6zM108 514h24v5h-24zM137 514h36v5h-36zM178 514h59v5h-59zM255 514h11v5h-11zM272 514h6v5h-6zM108 509h12v5h-12zM132 509h5v5h-5zM155 509h6v5h-6zM167 509h23v5h-23zM196 509h59v5h-59zM261 509h11v5h-11zM284 509h6v5h-6zM349 509h5v5h-5zM114 505h18v4h-18zM143 505h6v4h-6zM155 505h6v4h-6zM167 505h6v4h-6zM190 505h65v4h-65zM261 505h17v4h-17zM284 505h12v4h-12zM302 505h6v4h-6zM343 505h11v4h-11zM372 505h6v4h-6zM120 500h17v5h-17zM190 500h82v5h-82zM284 500h6v5h-6zM296 500h12v5h-12zM319 500h6v5h-6zM337 500h17v5h-17zM366 500h6v5h-6zM120 495h6v5h-6zM143 495h6v5h-6zM155 495h23v5h-23zM190 495h12v5h-12zM208 495h17v5h-17zM231 495h77v5h-77zM313 495h12v5h-12zM337 495h12v5h-12zM360 495h6v5h-6zM132 490h5v5h-5zM173 490h5v5h-5zM190 490h24v5h-24zM220 490h11v5h-11zM237 490h47v5h-47zM290 490h23v5h-23zM325 490h29v5h-29zM360 490h12v5h-12zM167 486h6v4h-6zM184 486h47v4h-47zM237 486h71v4h-71zM313 486h36v4h-36zM354 486h12v4h-12zM372 486h6v4h-6zM178 481h6v5h-6zM190 481h6v5h-6zM202 481h12v5h-12zM231 481h12v5h-12zM249 481h41v5h-41zM296 481h23v5h-23zM331 481h12v5h-12zM349 481h23v5h-23zM143 476h6v5h-6zM155 476h6v5h-6zM196 476h6v5h-6zM214 476h17v5h-17zM243 476h6v5h-6zM255 476h17v5h-17zM278 476h12v5h-12zM296 476h35v5h-35zM337 476h17v5h-17zM360 476h6v5h-6zM161 471h12v5h-12zM178 471h18v5h-18zM225 471h6v5h-6zM243 471h29v5h-29zM278 471h12v5h-12zM296 471h12v5h-12zM325 471h12v5h-12zM343 471h17v5h-17zM366 471h6v5h-6zM132 467h11v4h-11zM155 467h6v4h-6zM255 467h6v4h-6zM278 467h6v4h-6zM302 467h6v4h-6zM319 467h6v4h-6zM331 467h6v4h-6zM343 467h23v4h-23zM149 462h29v5h-29zM231 462h6v5h-6zM278 462h12v5h-12zM308 462h11v5h-11zM343 462h6v5h-6zM360 462h6v5h-6zM132 457h5v5h-5zM143 457h6v5h-6zM220 457h5v5h-5zM261 457h5v5h-5zM278 457h12v5h-12zM302 457h6v5h-6zM313 457h6v5h-6zM337 457h6v5h-6zM137 452h6v5h-6zM190 452h6v5h-6zM208 452h6v5h-6zM231 452h6v5h-6zM249 452h6v5h-6zM266 452h6v5h-6zM296 452h6v5h-6zM343 452h6v5h-6zM354 452h6v5h-6zM161 448h6v4h-6zM196 448h6v4h-6zM319 448h6v4h-6zM343 448h6v4h-6zM237 443h6v5h-6zM249 443h6v5h-6zM261 443h5v5h-5zM308 443h5v5h-5zM337 443h6v5h-6zM354 443h6v5h-6zM149 438h12v5h-12zM178 438h6v5h-6zM337 438h6v5h-6zM149 433h6v5h-6zM184 433h6v5h-6zM225 429h6v4h-6zM284 429h6v4h-6zM343 429h6v4h-6zM167 424h6v5h-6zM214 424h6v5h-6zM237 424h6v5h-6zM266 424h6v5h-6z"/>
<path fill="#0000b2" d="M79 680h6v5h-6zM90 680h42v5h-42zM73 675h6v5h-6zM90 675h24v5h-24zM73 671h6v4h-6zM85 671h5v4h-5zM96 671h18v4h-18zM67 666h6v5h-6zM79 666h6v5h-6zM90 666h24v5h-24zM126 666h6v5h-6zM67 661h6v5h-6zM85 661h5v5h-5zM96 661h18v5h-18zM126 661h6v5h-6zM67 656h6v5h-6zM90 656h30v5h-30zM73 652h6v4h-6zM85 652h5v4h-5zM96 652h18v4h-18zM85 647h11v5h-11zM102 647h30v5h-30zM137 647h6v5h-6zM73 642h6v5h-6zM85 642h29v5h-29zM120 642h6v5h-6zM73 637h23v5h-23zM102 637h12v5h-12zM120 637h12v5h-12zM79 633h41v4h-41zM126 633h6v4h-6zM79 628h41v5h-41zM126 628h11v5h-11zM85 623h17v5h-17zM108 623h24v5h-24zM73 618h17v5h-17zM102 618h30v5h-30zM137 618h6v5h-6zM85 614h17v4h-17zM108 614h35v4h-35zM149 614h6v4h-6zM85 609h5v5h-5zM96 609h6v5h-6zM108 609h29v5h-29zM143 609h12v5h-12zM96 604h6v5h-6zM108 604h47v5h-47zM90 599h12v5h-12zM108 599h59v5h-59zM126 595h11v4h-11zM143 595h30v4h-30zM90 590h6v5h-6zM114 590h12v5h-12zM132 590h23v5h-23zM161 590h12v5h-12zM132 585h5v5h-5zM155 585h6v5h-6zM114 580h6v5h-6zM137 580h6v5h-6zM149 580h29v5h-29zM190 580h6v5h-6zM108 576h6v4h-6zM149 576h18v4h-18zM173 576h5v4h-5zM143 571h24v5h-24zM173 571h17v5h-17zM143 566h47v5h-47zM161 561h6v5h-6zM173 561h23v5h-23zM202 561h12v5h-12zM137 557h6v4h-6zM155 557h6v4h-6zM178 557h6v4h-6zM190 557h12v4h-12zM208 557h6v4h-6zM155 552h6v5h-6zM173 552h29v5h-29zM214 552h6v5h-6zM178 547h18v5h-18zM202 547h23v5h-23zM167 543h17v4h-17zM190 543h12v4h-12zM208 543h17v4h-17zM196 538h12v5h-12zM214 538h23v5h-23zM178 533h12v5h-12zM202 533h6v5h-6zM214 533h17v5h-17zM237 533h6v5h-6zM249 533h17v5h-17zM272 533h6v5h-6zM220 528h23v5h-23zM249 528h12v5h-12zM266 528h24v5h-24zM313 528h6v5h-6zM366 528h6v5h-6zM196 524h6v4h-6zM208 524h17v4h-17zM243 524h47v4h-47zM296 524h6v4h-6zM325 524h6v4h-6zM378 524h6v4h-6zM208 519h6v5h-6zM220 519h5v5h-5zM231 519h6v5h-6zM243 519h12v5h-12zM266 519h6v5h-6zM278 519h18v5h-18zM302 519h35v5h-35zM349 519h11v5h-11zM366 519h18v5h-18zM237 514h18v5h-18zM266 514h6v5h-6zM278 514h47v5h-47zM331 514h12v5h-12zM349 514h29v5h-29zM255 509h6v5h-6zM272 509h12v5h-12zM290 509h59v5h-59zM354 509h30v5h-30zM255 505h6v4h-6zM278 505h6v4h-6zM296 505h6v4h-6zM308 505h35v4h-35zM354 505h18v4h-18zM378 505h6v4h-6zM272 500h12v5h-12zM290 500h6v5h-6zM308 500h11v5h-11zM325 500h12v5h-12zM354 500h12v5h-12zM372 500h12v5h-12zM308 495h5v5h-5zM325 495h12v5h-12zM349 495h11v5h-11zM366 495h12v5h-12zM313 490h12v5h-12zM372 490h6v5h-6zM231 486h6v4h-6zM308 486h5v4h-5zM366 486h6v4h-6zM319 481h6v5h-6zM343 481h6v5h-6z"/>
<path fill="#0000cc" d="M255 685h6v5h-6zM132 680h41v5h-41zM114 675h18v5h-18zM143 675h12v5h-12zM114 671h23v4h-23zM149 671h6v4h-6zM114 666h12v5h-12zM132 666h23v5h-23zM114 661h12v5h-12zM132 661h17v5h-17zM120 656h23v5h-23zM114 652h35v4h-35zM96 647h6v5h-6zM132 647h5v5h-5zM143 647h6v5h-6zM114 642h6v5h-6zM126 642h23v5h-23zM96 637h6v5h-6zM114 637h6v5h-6zM132 637h17v5h-17zM120 633h6v4h-6zM132 633h23v4h-23zM120 628h6v5h-6zM137 628h30v5h-30zM102 623h6v5h-6zM132 623h17v5h-17zM155 623h6v5h-6zM132 618h5v5h-5zM143 618h18v5h-18zM167 618h6v5h-6zM143 614h6v4h-6zM155 614h18v4h-18zM137 609h6v5h-6zM155 609h18v5h-18zM155 604h18v5h-18zM173 595h5v4h-5zM155 590h6v5h-6zM173 590h11v5h-11zM149 585h6v5h-6zM161 585h23v5h-23zM196 585h6v5h-6zM178 580h12v5h-12zM167 576h6v4h-6zM178 576h24v4h-24zM167 571h6v5h-6zM190 571h6v5h-6zM225 571h6v5h-6zM190 566h24v5h-24zM220 566h5v5h-5zM196 561h6v5h-6zM214 561h11v5h-11zM202 557h6v4h-6zM214 557h11v4h-11zM231 557h6v4h-6zM296 557h6v4h-6zM202 552h12v5h-12zM220 552h29v5h-29zM266 552h6v5h-6zM278 552h6v5h-6zM290 552h6v5h-6zM225 547h12v5h-12zM255 547h6v5h-6zM272 547h12v5h-12zM225 543h18v4h-18zM255 543h23v4h-23zM284 543h12v4h-12zM308 543h5v4h-5zM237 538h24v5h-24zM266 538h6v5h-6zM278 538h6v5h-6zM290 538h12v5h-12zM308 538h35v5h-35zM349 538h5v5h-5zM384 538h12v5h-12zM231 533h6v5h-6zM243 533h6v5h-6zM266 533h6v5h-6zM278 533h41v5h-41zM325 533h12v5h-12zM354 533h6v5h-6zM372 533h6v5h-6zM384 533h6v5h-6zM290 528h23v5h-23zM319 528h47v5h-47zM372 528h18v5h-18zM290 524h6v4h-6zM302 524h23v4h-23zM331 524h47v4h-47zM261 519h5v5h-5zM272 519h6v5h-6zM296 519h6v5h-6zM337 519h12v5h-12zM384 519h6v5h-6zM325 514h6v5h-6zM343 514h6v5h-6z"/>
<path fill="#0000e6" d="M173 680h5v5h-5zM132 675h11v5h-11zM155 675h18v5h-18zM137 671h12v4h-12zM155 671h12v4h-12zM155 666h12v5h-12zM149 661h18v5h-18zM143 656h18v5h-18zM149 652h6v4h-6zM184 652h6v4h-6zM149 647h18v5h-18zM149 642h6v5h-6zM149 637h6v5h-6zM161 637h6v5h-6zM155 633h12v4h-12zM149 623h6v5h-6zM161 623h6v5h-6zM161 618h6v5h-6zM173 618h5v5h-5zM173 614h5v4h-5zM173 604h11v5h-11zM167 599h17v5h-17zM190 599h12v5h-12zM214 599h6v5h-6zM178 595h18v4h-18zM184 590h30v5h-30zM184 585h12v5h-12zM202 585h12v5h-12zM196 580h12v5h-12zM214 580h17v5h-17zM249 580h6v5h-6zM202 576h18v4h-18zM231 576h6v4h-6zM196 571h29v5h-29zM237 571h6v5h-6zM255 571h6v5h-6zM214 566h6v5h-6zM225 566h18v5h-18zM261 566h5v5h-5zM290 566h6v5h-6zM225 561h18v5h-18zM249 561h17v5h-17zM272 561h6v5h-6zM325 561h6v5h-6zM225 557h6v4h-6zM237 557h18v4h-18zM261 557h35v4h-35zM313 557h12v4h-12zM331 557h6v4h-6zM249 552h12v5h-12zM272 552h6v5h-6zM284 552h6v5h-6zM296 552h17v5h-17zM325 552h6v5h-6zM343 552h6v5h-6zM237 547h12v5h-12zM261 547h11v5h-11zM284 547h29v5h-29zM319 547h18v5h-18zM343 547h6v5h-6zM354 547h6v5h-6zM366 547h12v5h-12zM390 547h6v5h-6zM243 543h12v4h-12zM278 543h6v4h-6zM296 543h12v4h-12zM313 543h36v4h-36zM354 543h18v4h-18zM384 543h6v4h-6zM261 538h5v5h-5zM272 538h6v5h-6zM284 538h6v5h-6zM302 538h6v5h-6zM343 538h6v5h-6zM354 538h30v5h-30zM319 533h6v5h-6zM337 533h17v5h-17zM360 533h12v5h-12zM378 533h6v5h-6zM390 533h6v5h-6z"/>
<path fill="#0000ff" d="M249 685h6v5h-6zM178 680h18v5h-18zM202 680h6v5h-6zM173 675h5v5h-5zM190 675h6v5h-6zM167 671h6v4h-6zM202 671h6v4h-6zM167 666h17v5h-17zM173 661h11v5h-11zM161 656h17v5h-17zM155 652h12v4h-12zM190 652h6v4h-6zM178 647h6v5h-6zM155 642h29v5h-29zM155 637h6v5h-6zM178 637h6v5h-6zM167 633h17v4h-17zM167 628h17v5h-17zM167 623h23v5h-23zM178 618h6v5h-6zM184 614h6v4h-6zM173 609h11v5h-11zM184 604h6v5h-6zM196 604h6v5h-6zM184 599h6v5h-6zM202 599h6v5h-6zM202 595h12v4h-12zM214 590h11v5h-11zM214 585h11v5h-11zM231 585h12v5h-12zM249 585h6v5h-6zM208 580h6v5h-6zM231 580h18v5h-18zM266 580h6v5h-6zM313 580h6v5h-6zM220 576h11v4h-11zM237 576h12v4h-12zM255 576h6v4h-6zM296 576h6v4h-6zM308 576h5v4h-5zM231 571h6v5h-6zM243 571h12v5h-12zM261 571h5v5h-5zM272 571h36v5h-36zM313 571h6v5h-6zM243 566h18v5h-18zM266 566h24v5h-24zM296 566h35v5h-35zM343 566h6v5h-6zM243 561h6v5h-6zM266 561h6v5h-6zM278 561h18v5h-18zM302 561h23v5h-23zM255 557h6v4h-6zM302 557h11v4h-11zM325 557h6v4h-6zM337 557h29v4h-29zM261 552h5v5h-5zM313 552h12v5h-12zM331 552h12v5h-12zM349 552h5v5h-5zM360 552h24v5h-24zM249 547h6v5h-6zM313 547h6v5h-6zM337 547h6v5h-6zM360 547h6v5h-6zM378 547h6v5h-6zM349 543h5v4h-5zM372 543h12v4h-12zM390 543h6v4h-6zM384 524h6v4h-6zM378 514h6v5h-6z"/>
<path fill="#001aff" d="M196 680h6v5h-6zM208 680h6v5h-6zM225 680h6v5h-6zM178 675h12v5h-12zM173 671h5v4h-5zM190 671h12v4h-12zM184 666h12v5h-12zM167 661h6v5h-6zM184 661h24v5h-24zM178 656h24v5h-24zM167 652h17v4h-17zM167 647h11v5h-11zM184 647h12v5h-12zM184 642h12v5h-12zM167 637h6v5h-6zM184 637h18v5h-18zM184 633h12v4h-12zM184 628h12v5h-12zM190 623h6v5h-6zM208 623h6v5h-6zM184 618h12v5h-12zM208 618h6v5h-6zM178 614h6v4h-6zM190 614h18v4h-18zM225 614h6v4h-6zM184 609h30v5h-30zM208 604h12v5h-12zM225 604h12v5h-12zM208 599h6v5h-6zM220 599h5v5h-5zM261 599h5v5h-5zM196 595h6v4h-6zM214 595h23v4h-23zM249 595h6v4h-6zM266 595h6v4h-6zM243 590h12v5h-12zM261 590h5v5h-5zM225 585h6v5h-6zM243 585h6v5h-6zM255 585h11v5h-11zM272 585h12v5h-12zM308 585h5v5h-5zM255 580h11v5h-11zM272 580h18v5h-18zM302 580h11v5h-11zM319 580h12v5h-12zM249 576h6v4h-6zM261 576h11v4h-11zM284 576h12v4h-12zM302 576h6v4h-6zM319 576h6v4h-6zM337 576h6v4h-6zM360 576h6v4h-6zM266 571h6v5h-6zM308 571h5v5h-5zM319 571h6v5h-6zM331 571h12v5h-12zM366 571h6v5h-6zM331 566h12v5h-12zM349 566h17v5h-17zM372 566h6v5h-6zM296 561h6v5h-6zM331 561h35v5h-35zM372 561h24v5h-24zM366 557h30v4h-30zM354 552h6v5h-6zM384 552h6v5h-6zM349 547h5v5h-5zM384 547h6v5h-6z"/>
<path fill="#0033ff" d="M214 680h11v5h-11zM231 680h6v5h-6zM196 675h12v5h-12zM220 675h5v5h-5zM178 671h12v4h-12zM208 671h12v4h-12zM196 666h24v5h-24zM208 661h6v5h-6zM202 656h6v5h-6zM214 656h11v5h-11zM196 652h18v4h-18zM196 647h18v5h-18zM196 642h18v5h-18zM173 637h5v5h-5zM202 637h12v5h-12zM196 633h12v4h-12zM202 628h12v5h-12zM220 628h5v5h-5zM196 623h12v5h-12zM196 618h12v5h-12zM214 618h11v5h-11zM237 618h6v5h-6zM208 614h6v4h-6zM220 614h5v4h-5zM220 609h17v5h-17zM249 609h6v5h-6zM190 604h6v5h-6zM202 604h6v5h-6zM220 604h5v5h-5zM237 604h24v5h-24zM278 604h6v5h-6zM225 599h12v5h-12zM243 599h6v5h-6zM272 599h12v5h-12zM243 595h6v4h-6zM255 595h11v4h-11zM272 595h6v4h-6zM302 595h6v4h-6zM225 590h18v5h-18zM255 590h6v5h-6zM266 590h18v5h-18zM308 590h11v5h-11zM284 585h24v5h-24zM313 585h6v5h-6zM354 585h6v5h-6zM290 580h12v5h-12zM337 580h6v5h-6zM354 580h6v5h-6zM272 576h12v4h-12zM313 576h6v4h-6zM325 576h6v4h-6zM343 576h17v4h-17zM366 576h6v4h-6zM325 571h6v5h-6zM343 571h11v5h-11zM372 571h12v5h-12zM366 566h6v5h-6zM390 566h6v5h-6zM366 561h6v5h-6zM390 552h11v5h-11z"/>
<path fill="#004dff" d="M255 694h6v5h-6zM243 680h6v5h-6zM255 680h6v5h-6zM208 675h12v5h-12zM231 675h6v5h-6zM220 671h5v4h-5zM231 671h6v4h-6zM220 666h5v5h-5zM214 661h6v5h-6zM225 661h12v5h-12zM208 656h6v5h-6zM214 652h6v4h-6zM225 647h6v5h-6zM220 642h5v5h-5zM208 633h6v4h-6zM231 633h6v4h-6zM196 628h6v5h-6zM214 628h6v5h-6zM225 628h6v5h-6zM214 623h35v5h-35zM243 618h12v5h-12zM214 614h6v4h-6zM237 614h6v4h-6zM255 614h6v4h-6zM266 614h6v4h-6zM278 614h12v4h-12zM214 609h6v5h-6zM243 609h6v5h-6zM266 609h12v5h-12zM284 609h6v5h-6zM296 609h6v5h-6zM261 604h17v5h-17zM284 604h6v5h-6zM296 604h6v5h-6zM319 604h6v5h-6zM237 599h6v5h-6zM249 599h6v5h-6zM266 599h6v5h-6zM284 599h6v5h-6zM302 599h6v5h-6zM313 599h6v5h-6zM237 595h6v4h-6zM278 595h18v4h-18zM313 595h12v4h-12zM331 595h12v4h-12zM284 590h6v5h-6zM296 590h12v5h-12zM319 590h6v5h-6zM331 590h6v5h-6zM343 590h6v5h-6zM354 590h6v5h-6zM266 585h6v5h-6zM319 585h6v5h-6zM331 585h6v5h-6zM343 585h11v5h-11zM366 585h6v5h-6zM331 580h6v5h-6zM343 580h11v5h-11zM360 580h6v5h-6zM331 576h6v4h-6zM390 576h6v4h-6zM401 576h6v4h-6zM354 571h12v5h-12zM384 571h17v5h-17zM378 566h12v5h-12z"/>
<path fill="#0066ff" d="M237 680h6v5h-6zM261 680h11v5h-11zM278 680h6v5h-6zM225 675h6v5h-6zM249 675h6v5h-6zM225 671h6v4h-6zM249 671h6v4h-6zM225 666h6v5h-6zM243 666h6v5h-6zM220 661h5v5h-5zM214 647h11v5h-11zM214 642h6v5h-6zM214 637h17v5h-17zM243 637h6v5h-6zM214 633h17v4h-17zM231 628h12v5h-12zM272 628h6v5h-6zM284 628h6v5h-6zM225 618h6v5h-6zM266 618h18v5h-18zM290 618h6v5h-6zM231 614h6v4h-6zM243 614h6v4h-6zM261 614h5v4h-5zM272 614h6v4h-6zM237 609h6v5h-6zM261 609h5v5h-5zM278 609h6v5h-6zM290 609h6v5h-6zM290 604h6v5h-6zM302 604h11v5h-11zM255 599h6v5h-6zM296 599h6v5h-6zM308 599h5v5h-5zM319 599h12v5h-12zM337 599h6v5h-6zM296 595h6v4h-6zM308 595h5v4h-5zM325 595h6v4h-6zM343 595h6v4h-6zM290 590h6v5h-6zM325 590h6v5h-6zM337 590h6v5h-6zM366 590h18v5h-18zM325 585h6v5h-6zM337 585h6v5h-6zM384 585h6v5h-6zM366 580h30v5h-30zM372 576h6v4h-6zM384 576h6v4h-6z"/>
<path fill="#0080ff" d="M290 680h6v5h-6zM255 675h6v5h-6zM237 671h12v4h-12zM255 671h11v4h-11zM278 671h6v4h-6zM237 666h6v5h-6zM255 666h6v5h-6zM237 661h24v5h-24zM225 656h30v5h-30zM266 656h6v5h-6zM220 652h17v4h-17zM261 652h11v4h-11zM231 647h6v5h-6zM225 642h6v5h-6zM237 642h6v5h-6zM261 642h17v5h-17zM237 637h6v5h-6zM255 637h11v5h-11zM296 637h6v5h-6zM237 633h12v4h-12zM272 633h6v4h-6zM243 628h18v5h-18zM266 628h6v5h-6zM278 628h6v5h-6zM249 623h29v5h-29zM284 623h12v5h-12zM231 618h6v5h-6zM261 618h5v5h-5zM249 614h6v4h-6zM255 609h6v5h-6zM308 609h11v5h-11zM313 604h6v5h-6zM337 604h12v5h-12zM290 599h6v5h-6zM331 599h6v5h-6zM343 599h6v5h-6zM372 599h6v5h-6zM384 599h6v5h-6zM349 595h17v4h-17zM372 595h12v4h-12zM349 590h5v5h-5zM360 590h6v5h-6zM401 590h6v5h-6zM360 585h6v5h-6zM378 585h6v5h-6zM378 576h6v4h-6zM396 576h5v4h-5z"/>
<path fill="#0099ff" d="M108 685h12v5h-12zM290 685h6v5h-6zM372 685h6v5h-6zM249 680h6v5h-6zM302 680h6v5h-6zM384 680h6v5h-6zM243 675h6v5h-6zM266 675h6v5h-6zM266 671h12v4h-12zM249 666h6v5h-6zM261 666h5v5h-5zM261 661h11v5h-11zM278 661h6v5h-6zM261 656h5v5h-5zM284 656h6v5h-6zM237 652h6v4h-6zM249 652h6v4h-6zM284 652h6v4h-6zM296 652h6v4h-6zM237 647h6v5h-6zM255 647h17v5h-17zM296 647h6v5h-6zM231 642h6v5h-6zM284 642h6v5h-6zM231 637h6v5h-6zM266 637h12v5h-12zM290 637h6v5h-6zM249 633h6v4h-6zM261 633h5v4h-5zM261 628h5v5h-5zM296 628h6v5h-6zM278 623h6v5h-6zM255 618h6v5h-6zM284 618h6v5h-6zM349 618h5v5h-5zM290 614h12v4h-12zM313 614h6v4h-6zM319 609h24v5h-24zM325 604h12v5h-12zM378 604h6v5h-6zM349 599h11v5h-11zM366 599h6v5h-6zM390 599h6v5h-6zM396 595h5v4h-5zM390 590h6v5h-6zM372 585h6v5h-6zM390 585h11v5h-11zM396 580h5v5h-5zM396 561h5v5h-5z"/>
<path fill="#00b2ff" d="M67 685h41v5h-41zM120 685h6v5h-6zM167 685h6v5h-6zM190 685h6v5h-6zM261 685h5v5h-5zM366 685h6v5h-6zM272 680h6v5h-6zM296 680h6v5h-6zM308 680h11v5h-11zM331 680h6v5h-6zM354 680h6v5h-6zM401 680h6v5h-6zM237 675h6v5h-6zM261 675h5v5h-5zM272 675h6v5h-6zM290 675h6v5h-6zM284 671h6v4h-6zM296 671h6v4h-6zM231 666h6v5h-6zM272 666h12v5h-12zM272 661h6v5h-6zM255 656h6v5h-6zM243 652h6v4h-6zM255 652h6v4h-6zM272 652h6v4h-6zM278 647h6v5h-6zM278 642h6v5h-6zM290 642h18v5h-18zM284 637h6v5h-6zM308 637h5v5h-5zM255 633h6v4h-6zM266 633h6v4h-6zM278 633h6v4h-6zM290 633h6v4h-6zM302 633h6v4h-6zM308 628h5v5h-5zM296 623h12v5h-12zM319 623h6v5h-6zM343 623h6v5h-6zM331 618h6v5h-6zM302 614h11v4h-11zM319 614h12v4h-12zM337 614h6v4h-6zM349 614h5v4h-5zM372 614h6v4h-6zM302 609h6v5h-6zM343 609h11v5h-11zM372 609h6v5h-6zM349 604h11v5h-11zM366 604h6v5h-6zM378 599h6v5h-6zM401 599h6v5h-6zM366 595h6v4h-6zM390 595h6v4h-6zM384 590h6v5h-6zM396 590h5v5h-5zM407 590h6v5h-6zM396 557h5v4h-5z"/>
<path fill="#00ccff" d="M137 685h6v5h-6zM284 685h6v5h-6zM401 685h6v5h-6zM284 680h6v5h-6zM343 680h11v5h-11zM360 680h6v5h-6zM390 680h6v5h-6zM284 675h6v5h-6zM296 675h12v5h-12zM325 675h6v5h-6zM308 671h5v4h-5zM384 671h6v4h-6zM266 666h6v5h-6zM284 666h6v5h-6zM296 661h6v5h-6zM313 661h12v5h-12zM278 656h6v5h-6zM290 656h18v5h-18zM278 652h6v4h-6zM308 652h17v4h-17zM243 647h6v5h-6zM272 647h6v5h-6zM284 647h6v5h-6zM302 647h6v5h-6zM313 647h6v5h-6zM325 647h6v5h-6zM308 642h5v5h-5zM278 637h6v5h-6zM284 633h6v4h-6zM296 633h6v4h-6zM308 633h5v4h-5zM290 628h6v5h-6zM302 628h6v5h-6zM349 628h5v5h-5zM325 623h6v5h-6zM337 623h6v5h-6zM302 618h23v5h-23zM337 618h12v5h-12zM384 618h6v5h-6zM343 614h6v4h-6zM360 614h12v4h-12zM378 609h6v5h-6zM401 609h6v5h-6zM360 604h6v5h-6zM390 604h6v5h-6zM407 604h6v5h-6zM360 599h6v5h-6zM396 599h5v5h-5zM407 599h6v5h-6zM384 595h6v4h-6zM401 595h6v4h-6z"/>
<path fill="#00e5ff" d="M290 690h6v4h-6zM296 685h6v5h-6zM319 680h6v5h-6zM337 680h6v5h-6zM378 680h6v5h-6zM278 675h6v5h-6zM349 675h5v5h-5zM290 671h6v4h-6zM325 671h6v4h-6zM372 666h6v5h-6zM390 666h6v5h-6zM302 661h11v5h-11zM384 661h6v5h-6zM313 656h6v5h-6zM302 652h6v4h-6zM354 652h6v4h-6zM290 647h6v5h-6zM243 642h6v5h-6zM255 642h6v5h-6zM360 642h6v5h-6zM302 637h6v5h-6zM349 637h5v5h-5zM331 633h6v4h-6zM343 633h11v4h-11zM360 633h6v4h-6zM319 628h6v5h-6zM308 623h11v5h-11zM325 618h6v5h-6zM354 618h6v5h-6zM366 618h12v5h-12zM331 614h6v4h-6zM354 614h6v4h-6zM354 609h6v5h-6zM366 609h6v5h-6zM384 609h12v5h-12zM372 604h6v5h-6zM384 604h6v5h-6zM396 604h5v5h-5zM401 585h6v5h-6zM401 580h6v5h-6z"/>
<path fill="#00ffff" d="M126 685h11v5h-11zM225 685h12v5h-12zM325 680h6v5h-6zM366 680h12v5h-12zM319 675h6v5h-6zM331 675h6v5h-6zM372 675h6v5h-6zM302 671h6v4h-6zM313 671h6v4h-6zM337 671h6v4h-6zM366 671h6v4h-6zM290 666h12v5h-12zM308 666h11v5h-11zM331 666h6v5h-6zM384 666h6v5h-6zM401 666h6v5h-6zM290 661h6v5h-6zM325 661h6v5h-6zM360 661h6v5h-6zM378 661h6v5h-6zM272 656h6v5h-6zM308 656h5v5h-5zM290 652h6v4h-6zM308 647h5v5h-5zM366 647h6v5h-6zM378 647h6v5h-6zM313 642h6v5h-6zM313 637h6v5h-6zM325 637h6v5h-6zM313 633h18v4h-18zM337 633h6v4h-6zM390 633h6v4h-6zM313 628h6v5h-6zM331 628h6v5h-6zM343 628h6v5h-6zM366 628h6v5h-6zM378 628h6v5h-6zM401 628h6v5h-6zM331 623h6v5h-6zM349 623h5v5h-5zM384 623h6v5h-6zM296 618h6v5h-6zM360 618h6v5h-6zM396 618h11v5h-11zM378 614h35v4h-35zM360 609h6v5h-6zM396 609h5v5h-5z"/>
<path fill="#1affe5" d="M419 685h12v5h-12zM396 680h5v5h-5zM308 675h5v5h-5zM343 675h6v5h-6zM360 675h6v5h-6zM378 675h6v5h-6zM396 675h5v5h-5zM319 671h6v4h-6zM378 671h6v4h-6zM390 671h6v4h-6zM302 666h6v5h-6zM319 666h6v5h-6zM360 666h6v5h-6zM284 661h6v5h-6zM366 661h6v5h-6zM319 656h12v5h-12zM372 656h6v5h-6zM384 656h12v5h-12zM325 652h12v4h-12zM360 652h12v4h-12zM378 652h6v4h-6zM390 652h6v4h-6zM401 652h6v4h-6zM319 647h6v5h-6zM337 647h6v5h-6zM319 642h6v5h-6zM390 642h6v5h-6zM319 637h6v5h-6zM331 637h6v5h-6zM337 628h6v5h-6zM354 623h6v5h-6zM366 623h18v5h-18zM378 618h6v5h-6zM401 604h6v5h-6zM396 566h5v5h-5z"/>
<path fill="#33ffcc" d="M249 690h6v4h-6zM143 685h6v5h-6zM196 685h12v5h-12zM278 685h6v5h-6zM396 685h5v5h-5zM407 680h6v5h-6zM313 675h6v5h-6zM354 675h6v5h-6zM366 675h6v5h-6zM349 671h5v4h-5zM372 671h6v4h-6zM396 671h5v4h-5zM325 666h6v5h-6zM337 666h12v5h-12zM378 666h6v5h-6zM331 661h6v5h-6zM343 661h11v5h-11zM372 661h6v5h-6zM390 661h6v5h-6zM331 656h6v5h-6zM343 656h6v5h-6zM360 656h12v5h-12zM378 656h6v5h-6zM396 656h5v5h-5zM337 652h17v4h-17zM372 652h6v4h-6zM384 652h6v4h-6zM249 647h6v5h-6zM349 647h5v5h-5zM372 647h6v5h-6zM407 647h6v5h-6zM349 642h5v5h-5zM372 642h12v5h-12zM407 642h6v5h-6zM249 637h6v5h-6zM337 637h6v5h-6zM354 637h12v5h-12zM407 637h6v5h-6zM354 633h6v4h-6zM378 633h12v4h-12zM325 628h6v5h-6zM354 628h12v5h-12zM372 628h6v5h-6zM384 628h6v5h-6zM396 628h5v5h-5zM360 623h6v5h-6zM390 623h6v5h-6zM401 623h6v5h-6zM390 618h6v5h-6zM413 614h6v4h-6zM407 609h6v5h-6z"/>
<path fill="#4dffb2" d="M360 685h6v5h-6zM407 685h6v5h-6zM384 675h6v5h-6zM407 675h6v5h-6zM419 675h6v5h-6zM354 671h6v4h-6zM401 671h6v4h-6zM354 666h6v5h-6zM366 666h6v5h-6zM396 666h5v5h-5zM337 661h6v5h-6zM354 661h6v5h-6zM413 661h6v5h-6zM337 656h6v5h-6zM349 656h5v5h-5zM401 656h6v5h-6zM396 652h5v4h-5zM413 652h6v4h-6zM354 647h6v5h-6zM384 647h17v5h-17zM325 642h6v5h-6zM354 642h6v5h-6zM384 642h6v5h-6zM413 642h6v5h-6zM366 637h6v5h-6zM366 633h12v4h-12zM401 633h6v4h-6zM407 628h6v5h-6zM396 623h5v5h-5zM407 595h6v4h-6zM401 571h6v5h-6z"/>
<path fill="#66ff99" d="M378 690h6v4h-6zM184 685h6v5h-6zM378 685h6v5h-6zM413 680h6v5h-6zM337 675h6v5h-6zM390 675h6v5h-6zM331 671h6v4h-6zM343 671h6v4h-6zM360 671h6v4h-6zM407 671h6v4h-6zM349 666h5v5h-5zM396 661h11v5h-11zM419 661h6v5h-6zM354 656h6v5h-6zM331 647h6v5h-6zM343 647h6v5h-6zM360 647h6v5h-6zM413 647h6v5h-6zM331 642h12v5h-12zM366 642h6v5h-6zM343 637h6v5h-6zM372 637h6v5h-6zM396 637h11v5h-11zM396 633h5v4h-5zM390 628h6v5h-6zM413 628h6v5h-6z"/>
<path fill="#80ff80" d="M431 690h6v4h-6zM173 685h5v5h-5zM401 675h6v5h-6zM407 666h12v5h-12zM407 661h6v5h-6zM413 656h6v5h-6zM407 652h6v4h-6zM343 642h6v5h-6zM401 642h6v5h-6zM419 642h6v5h-6zM390 637h6v5h-6zM413 637h6v5h-6zM413 623h6v5h-6zM407 618h12v5h-12z"/>
<path fill="#99ff66" d="M425 680h6v5h-6zM413 671h6v4h-6zM425 666h6v5h-6zM407 656h6v5h-6zM396 642h5v5h-5zM378 637h6v5h-6zM407 633h12v4h-12zM407 623h6v5h-6z"/>
<path fill="#b3ff4c" d="M419 680h6v5h-6zM401 647h6v5h-6zM384 637h6v5h-6z"/>
<path fill="#ccff33" d="M261 690h5v4h-5zM284 690h6v4h-6zM372 690h6v4h-6zM208 685h6v5h-6zM319 685h18v5h-18zM349 685h11v5h-11zM390 685h6v5h-6zM425 661h6v5h-6zM419 656h6v5h-6zM419 652h6v4h-6zM249 642h6v5h-6zM413 609h6v5h-6z"/>
<path fill="#e5ff1a" d="M425 675h6v5h-6zM419 671h6v4h-6zM419 666h6v5h-6zM419 637h6v5h-6z"/>
<path fill="#ffff00" d="M407 690h6v4h-6zM220 685h5v5h-5zM266 685h6v5h-6zM337 685h12v5h-12zM413 685h6v5h-6zM413 675h6v5h-6zM425 671h12v4h-12zM425 652h6v4h-6z"/>
<path fill="#ffe500" d="M237 685h6v5h-6zM272 685h6v5h-6zM302 685h6v5h-6zM313 685h6v5h-6zM384 685h6v5h-6zM425 656h6v5h-6z"/>
<path fill="#ffcc00" d="M419 647h6v5h-6z"/>
<path fill="#ff9900" d="M308 685h5v5h-5z"/>
<path fill="#ff4c00" d="M401 690h6v4h-6zM425 647h6v5h-6z"/>
<path fill="#ff3300" d="M296 690h6v4h-6zM178 685h6v5h-6z"/>
<path fill="#ff0000" d="M349 690h5v4h-5zM366 690h6v4h-6zM161 685h6v5h-6zM243 685h6v5h-6z"/>
<path fill="#e50000" d="M102 690h6v4h-6zM419 633h6v4h-6zM419 628h6v5h-6z"/>
<path fill="#b30000" d="M96 690h6v4h-6zM108 690h6v4h-6z"/>
<path fill="#990000" d="M73 690h6v4h-6zM190 690h6v4h-6zM384 690h6v4h-6zM425 690h6v4h-6z"/>
<path fill="#4a0000" d="M73 699h6v5h-6zM249 694h6v5h-6zM261 694h5v5h-5zM284 694h18v5h-18zM372 694h12v5h-12zM401 694h12v5h-12zM431 694h6v5h-6zM67 690h6v4h-6zM79 690h17v4h-17zM114 690h35v4h-35zM167 690h6v4h-6zM196 690h12v4h-12zM225 690h12v4h-12zM278 690h6v4h-6zM319 690h30v4h-30zM354 690h12v4h-12zM390 690h11v4h-11zM413 690h12v4h-12zM149 685h6v5h-6zM214 685h6v5h-6z"/>
<path fill="#762020" d="M67 709h370v4h-370zM67 704h370v5h-370zM67 699h6v5h-6zM79 699h358v5h-358zM67 694h182v5h-182zM266 694h18v5h-18zM302 694h70v5h-70zM384 694h17v5h-17zM413 694h18v5h-18zM149 690h18v4h-18zM173 690h17v4h-17zM208 690h17v4h-17zM237 690h12v4h-12zM266 690h12v4h-12zM302 690h17v4h-17zM155 685h6v5h-6z"/>
</g>
<rect x="76" y="431.1" width="104.1" height="35.4" fill="#fff" opacity="0.24"/>
<path d="M377.4 624.5H179.6V678.3H377.4" fill="none" stroke="#ff8a7a" stroke-width="2" stroke-dasharray="4.4 4.5"/>
<path d="M213.8 687.4V703.2" stroke="#ffffa6" stroke-width="2" fill="none"/>
<path d="M213.8 682.4l-6.2 10.2l6.2 -3.4l6.2 3.4zM213.8 708.2l-6.2 -10.2l6.2 3.4l6.2 -3.4z" fill="#ffffa6"/>
<rect x="70.1" y="427.4" width="366.5" height="284.7" fill="none" stroke="#000" stroke-width="1.3"/>
<path d="M94.4 712.1v-5.5M143.3 712.1v-5.5M192.2 712.1v-5.5M241.1 712.1v-5.5M290 712.1v-5.5M338.9 712.1v-5.5M387.8 712.1v-5.5" stroke="#000" stroke-width="1.3" fill="none"/>
<path d="M118.9 712.1v-3.2M167.8 712.1v-3.2M216.7 712.1v-3.2M265.6 712.1v-3.2M314.4 712.1v-3.2M363.4 712.1v-3.2M412.2 712.1v-3.2" stroke="#000" stroke-width="1.3" fill="none"/>
<path d="M70.1 617.2h6.5M70.1 522.4h6.5" stroke="#000" stroke-width="1.3" fill="none"/>
<path d="M70.1 680.5h3.6M70.1 648.9h3.6M70.1 585.6h3.6M70.1 554h3.6M70.1 490.7h3.6M70.1 459.1h3.6" stroke="#000" stroke-width="1.3" fill="none"/>
<text x="94.4" y="734.7" font-size="20.6" text-anchor="middle">1</text>
<text x="143.3" y="734.7" font-size="20.6" text-anchor="middle">2</text>
<text x="192.2" y="734.7" font-size="20.6" text-anchor="middle">3</text>
<text x="241.1" y="734.7" font-size="20.6" text-anchor="middle">4</text>
<text x="290" y="734.7" font-size="20.6" text-anchor="middle">5</text>
<text x="338.9" y="734.7" font-size="20.6" text-anchor="middle">6</text>
<text x="387.8" y="734.7" font-size="20.6" text-anchor="middle">7</text>
<text x="63.8" y="718.6" font-size="20.6" text-anchor="end">0</text>
<text x="63.8" y="623.7" font-size="20.6" text-anchor="end">10</text>
<text x="63.8" y="528.9" font-size="20.6" text-anchor="end">20</text>
<text x="63.8" y="434" font-size="20.6" text-anchor="end">30</text>
<text x="5.5" y="432.2" font-size="39.5" font-weight="bold">b</text>
<text x="263" y="766.1" font-size="23" text-anchor="middle"><tspan dy="0" font-style="italic">Q</tspan><tspan dy="0"> (Å</tspan><tspan dy="-9.7" font-size="15.6">-1</tspan><tspan dy="9.7">)</tspan></text>
<text transform="translate(29 569.8) rotate(-90)" font-size="23" text-anchor="middle"><tspan font-style="italic">E</tspan> (meV)</text>
<text x="81.1" y="454.6" font-size="23" fill="#e8413c"><tspan dy="0">Sr</tspan><tspan dy="5.1" font-size="15.6">2</tspan><tspan dy="-5.1">ZnSb</tspan><tspan dy="5.1" font-size="15.6">2</tspan></text>
<text x="429.3" y="459.2" font-size="23" text-anchor="end">300K</text>
<!-- panel c -->
<clipPath id="cc"><rect x="564.5" y="42.7" width="366.8" height="284.5"/></clipPath>
<rect x="564.5" y="169.5" width="128.3" height="157.7" fill="#ffffdc"/>
<g clip-path="url(#cc)">
<path d="M564.5 321.7L571.2 320L577.9 318.5L584.6 317.2L591.4 313.1L598.1 307L604.8 301.9L611.5 292.4L618.2 280.9L624.9 267.1L631.7 260.1L638.4 245.5L645.1 239L651.8 232.2L658.5 214.4L665.2 215.6L672 193.8L678.7 183.3L685.4 169.2L692.1 177.8L698.8 153L705.5 154.6L712.3 146.6L719 145.8L725.7 158.3L732.4 169.8L739.1 124.9L745.8 115.8L752.6 157.7L759.3 144.9L766 144.5L772.7 118.2L779.4 148.8L786.1 171.9L792.9 208.3L799.6 209.7L806.3 217.4L813 270.1L819.7 233.9L826.4 221.7L833.2 249.4L839.9 303.4L846.6 273.1L853.3 262.6L860 275.4L866.7 267.2L873.5 219.6L880.2 255L886.9 220.4L893.6 225.4L900.3 244.2L907 248.3L913.8 324.8L920.5 324.8L927.2 324.8L927.2 324.8L920.5 324.8L913.8 324.8L907 294.6L900.3 291.6L893.6 287.7L886.9 253.3L880.2 314L873.5 265.5L866.7 302.8L860 314.5L853.3 302.6L846.6 321.6L839.9 327.2L833.2 321.1L826.4 296.6L819.7 296.7L813 327.2L806.3 259.1L799.6 234.1L792.9 230.3L786.1 201.2L779.4 166.5L772.7 145.9L766 174.1L759.3 161.4L752.6 174.1L745.8 143.5L739.1 137.7L732.4 184.8L725.7 181.6L719 160.9L712.3 173L705.5 170.1L698.8 178.9L692.1 206.2L685.4 186.8L678.7 199.8L672 206.8L665.2 221.6L658.5 220.3L651.8 236.7L645.1 244.6L638.4 249.5L631.7 267.6L624.9 273.5L618.2 288.6L611.5 298L604.8 305.5L598.1 314.6L591.4 319.9L584.6 324.9L577.9 325.5L571.2 326.8L564.5 327.2z" fill="#fbdcdc"/>
<path d="M591.1 324.1L597.8 321L604.4 316.7L611 311.3L617.7 308.7L624.4 302.9L631 298.9L637.6 291.9L644.3 280.5L651 263.8L657.6 252.4L664.2 231.9L670.9 219.5L677.5 207.7L684.2 188.2L690.9 183.5L697.5 178.3L704.1 159.9L710.8 129.9L717.5 98.4L724.1 74.6L730.8 96.2L737.4 91.4L744 90.1L750.7 103L757.4 86.5L764 132.5L770.6 181.5L777.3 180.1L784 235.7L790.6 235L797.2 218.4L803.9 216.8L810.5 276.2L817.2 284.6L823.9 250.6L830.5 252.7L837.2 206.4L843.8 239.2L850.5 198.1L857.1 204.8L863.8 165.7L870.4 163.6L877 235.2L883.7 300.3L890.4 314.9L897 318.7L903.7 319.4L903.7 327.2L897 327.2L890.4 327.2L883.7 326.1L877 264.6L870.4 219.9L863.8 212.1L857.1 233.8L850.5 224.8L843.8 269.1L837.2 240.8L830.5 286.9L823.9 292.4L817.2 310L810.5 292.8L803.9 242.1L797.2 239.1L790.6 251.5L784 248.4L777.3 205.8L770.6 194L764 158.1L757.4 111.1L750.7 126.9L744 103.7L737.4 115.7L730.8 116.6L724.1 92.2L717.5 115.8L710.8 156.9L704.1 186.7L697.5 182.9L690.9 186.3L684.2 193.4L677.5 210.5L670.9 221.9L664.2 234.2L657.6 256.4L651 267.2L644.3 285.2L637.6 294.2L631 303.8L624.4 307.4L617.7 311.1L611 316.5L604.4 319.2L597.8 325.4L591.1 327.2z" fill="#dedede"/>
<path d="M646.8 276.3L648.4 272.1M659.7 247.7L662.2 239.7M679.9 202.5L681.8 197.4M705.7 166.4L709.3 150.2M712.1 136.5L716.2 114M719.3 100.4L722.2 90.1M726 90.1L728.8 99.7M746.5 103.5L748.3 108.4M753.4 108.5L754.7 105.3M758.3 105.7L763 138.4M765.1 152.2L769.6 180.8M778.2 199.9L783 235.1M793.5 236.9L794.3 235.1M804.7 236.4L809.7 277.6M818.9 290.5L822.1 278.2M831.5 262.9L836.2 230.5M838.6 230.4L842.3 247.3M844.9 247.2L849.4 218.4M858.6 212.5L862.3 195.8M871.2 198.7L876.3 242.9M877.8 256.8L883 306.2" stroke="#454545" stroke-width="1.6" fill="none"/>
<g stroke="#454545" stroke-width="1.6" fill="#fff" stroke-linejoin="miter"><path d="M587 321.9h8.2v8.2h-8.2z"/><path d="M593.6 319.1h8.2v8.2h-8.2z"/><path d="M600.3 313.9h8.2v8.2h-8.2z"/><path d="M606.9 309.8h8.2v8.2h-8.2z"/><path d="M613.6 305.8h8.2v8.2h-8.2z"/><path d="M620.2 301h8.2v8.2h-8.2z"/><path d="M626.9 297.2h8.2v8.2h-8.2z"/><path d="M633.5 288.9h8.2v8.2h-8.2z"/><path d="M640.2 278.7h8.2v8.2h-8.2z"/><path d="M646.9 261.4h8.2v8.2h-8.2z"/><path d="M653.5 250.3h8.2v8.2h-8.2z"/><path d="M660.1 228.9h8.2v8.2h-8.2z"/><path d="M666.8 216.6h8.2v8.2h-8.2z"/><path d="M673.4 205h8.2v8.2h-8.2z"/><path d="M680.1 186.7h8.2v8.2h-8.2z"/><path d="M686.8 180.8h8.2v8.2h-8.2z"/><path d="M693.4 176.5h8.2v8.2h-8.2z"/><path d="M700 169.2h8.2v8.2h-8.2z"/><path d="M706.7 139.3h8.2v8.2h-8.2z"/><path d="M713.4 103h8.2v8.2h-8.2z"/><path d="M720 79.3h8.2v8.2h-8.2z"/><path d="M726.6 102.3h8.2v8.2h-8.2z"/><path d="M733.3 99.5h8.2v8.2h-8.2z"/><path d="M739.9 92.8h8.2v8.2h-8.2z"/><path d="M746.6 110.8h8.2v8.2h-8.2z"/><path d="M753.2 94.7h8.2v8.2h-8.2z"/><path d="M759.9 141.2h8.2v8.2h-8.2z"/><path d="M766.5 183.6h8.2v8.2h-8.2z"/><path d="M773.2 188.9h8.2v8.2h-8.2z"/><path d="M779.9 238h8.2v8.2h-8.2z"/><path d="M786.5 239.1h8.2v8.2h-8.2z"/><path d="M793.1 224.7h8.2v8.2h-8.2z"/><path d="M799.8 225.4h8.2v8.2h-8.2z"/><path d="M806.4 280.4h8.2v8.2h-8.2z"/><path d="M813.1 293.2h8.2v8.2h-8.2z"/><path d="M819.8 267.4h8.2v8.2h-8.2z"/><path d="M826.4 265.7h8.2v8.2h-8.2z"/><path d="M833.1 219.5h8.2v8.2h-8.2z"/><path d="M839.7 250.1h8.2v8.2h-8.2z"/><path d="M846.4 207.4h8.2v8.2h-8.2z"/><path d="M853 215.2h8.2v8.2h-8.2z"/><path d="M859.6 184.8h8.2v8.2h-8.2z"/><path d="M866.3 187.7h8.2v8.2h-8.2z"/><path d="M872.9 245.8h8.2v8.2h-8.2z"/><path d="M879.6 309.1h8.2v8.2h-8.2z"/><path d="M886.2 320.7h8.2v8.2h-8.2z"/><path d="M892.9 321.9h8.2v8.2h-8.2z"/><path d="M899.6 321.9h8.2v8.2h-8.2z"/></g>
<path d="M634.5 256.9L635.5 254.5M654.6 227.5L655.8 224.4M667.8 211.5L669.4 207.4M694 184.8L697 173.2M721.8 160.3L722.9 163M733.5 169.9L738 138.7M747.2 137L751.2 158.6M767.8 152L770.9 139.3M774.6 139.3L777.5 150.4M781.1 164.9L784.4 179.3M787.7 193.9L791.4 211.9M802.4 228.8L803.4 231.3M807 245.7L812.3 299.6M814.2 299.6L818.5 272.7M828.3 266.4L831.3 278M834.4 292.6L838.7 318.8M841.6 318.9L844.9 304.6M867.9 277.6L872.3 249.9M874.6 249.9L879 277.1M881.2 277.1L885.8 244.3M889.3 243.9L891.2 249.4M908 278.9L912.8 317.4" stroke="#ea3832" stroke-width="1.6" fill="none"/>
<g stroke="#ea3832" stroke-width="1.6" fill="#fff" stroke-linejoin="miter"><path d="M564.5 318.1l6.7 6.7l-6.7 6.7l-6.7 -6.7z"/><path d="M571.2 316.7l6.7 6.7l-6.7 6.7l-6.7 -6.7z"/><path d="M577.9 315.3l6.7 6.7l-6.7 6.7l-6.7 -6.7z"/><path d="M584.6 314.3l6.7 6.7l-6.7 6.7l-6.7 -6.7z"/><path d="M591.4 309.8l6.7 6.7l-6.7 6.7l-6.7 -6.7z"/><path d="M598.1 304.1l6.7 6.7l-6.7 6.7l-6.7 -6.7z"/><path d="M604.8 297l6.7 6.7l-6.7 6.7l-6.7 -6.7z"/><path d="M611.5 288.5l6.7 6.7l-6.7 6.7l-6.7 -6.7z"/><path d="M618.2 278l6.7 6.7l-6.7 6.7l-6.7 -6.7z"/><path d="M624.9 263.6l6.7 6.7l-6.7 6.7l-6.7 -6.7z"/><path d="M631.7 257.2l6.7 6.7l-6.7 6.7l-6.7 -6.7z"/><path d="M638.4 240.8l6.7 6.7l-6.7 6.7l-6.7 -6.7z"/><path d="M645.1 235.1l6.7 6.7l-6.7 6.7l-6.7 -6.7z"/><path d="M651.8 227.8l6.7 6.7l-6.7 6.7l-6.7 -6.7z"/><path d="M658.5 210.7l6.7 6.7l-6.7 6.7l-6.7 -6.7z"/><path d="M665.2 211.9l6.7 6.7l-6.7 6.7l-6.7 -6.7z"/><path d="M672 193.6l6.7 6.7l-6.7 6.7l-6.7 -6.7z"/><path d="M678.7 184.8l6.7 6.7l-6.7 6.7l-6.7 -6.7z"/><path d="M685.4 171.3l6.7 6.7l-6.7 6.7l-6.7 -6.7z"/><path d="M692.1 185.3l6.7 6.7l-6.7 6.7l-6.7 -6.7z"/><path d="M698.8 159.2l6.7 6.7l-6.7 6.7l-6.7 -6.7z"/><path d="M705.5 155.7l6.7 6.7l-6.7 6.7l-6.7 -6.7z"/><path d="M712.3 153.1l6.7 6.7l-6.7 6.7l-6.7 -6.7z"/><path d="M719 146.7l6.7 6.7l-6.7 6.7l-6.7 -6.7z"/><path d="M725.7 163.3l6.7 6.7l-6.7 6.7l-6.7 -6.7z"/><path d="M732.4 170.6l6.7 6.7l-6.7 6.7l-6.7 -6.7z"/><path d="M739.1 124.6l6.7 6.7l-6.7 6.7l-6.7 -6.7z"/><path d="M745.8 122.9l6.7 6.7l-6.7 6.7l-6.7 -6.7z"/><path d="M752.6 159.2l6.7 6.7l-6.7 6.7l-6.7 -6.7z"/><path d="M759.3 146.4l6.7 6.7l-6.7 6.7l-6.7 -6.7z"/><path d="M766 152.6l6.7 6.7l-6.7 6.7l-6.7 -6.7z"/><path d="M772.7 125.3l6.7 6.7l-6.7 6.7l-6.7 -6.7z"/><path d="M779.4 150.9l6.7 6.7l-6.7 6.7l-6.7 -6.7z"/><path d="M786.1 179.9l6.7 6.7l-6.7 6.7l-6.7 -6.7z"/><path d="M792.9 212.6l6.7 6.7l-6.7 6.7l-6.7 -6.7z"/><path d="M799.6 215.2l6.7 6.7l-6.7 6.7l-6.7 -6.7z"/><path d="M806.3 231.6l6.7 6.7l-6.7 6.7l-6.7 -6.7z"/><path d="M813 300.3l6.7 6.7l-6.7 6.7l-6.7 -6.7z"/><path d="M819.7 258.6l6.7 6.7l-6.7 6.7l-6.7 -6.7z"/><path d="M826.4 252.4l6.7 6.7l-6.7 6.7l-6.7 -6.7z"/><path d="M833.2 278.5l6.7 6.7l-6.7 6.7l-6.7 -6.7z"/><path d="M839.9 319.6l6.7 6.7l-6.7 6.7l-6.7 -6.7z"/><path d="M846.6 290.6l6.7 6.7l-6.7 6.7l-6.7 -6.7z"/><path d="M853.3 275.9l6.7 6.7l-6.7 6.7l-6.7 -6.7z"/><path d="M860 288.2l6.7 6.7l-6.7 6.7l-6.7 -6.7z"/><path d="M866.7 278.3l6.7 6.7l-6.7 6.7l-6.7 -6.7z"/><path d="M873.5 235.8l6.7 6.7l-6.7 6.7l-6.7 -6.7z"/><path d="M880.2 277.8l6.7 6.7l-6.7 6.7l-6.7 -6.7z"/><path d="M886.9 230.1l6.7 6.7l-6.7 6.7l-6.7 -6.7z"/><path d="M893.6 249.8l6.7 6.7l-6.7 6.7l-6.7 -6.7z"/><path d="M900.3 261.2l6.7 6.7l-6.7 6.7l-6.7 -6.7z"/><path d="M907 264.8l6.7 6.7l-6.7 6.7l-6.7 -6.7z"/><path d="M913.8 318.1l6.7 6.7l-6.7 6.7l-6.7 -6.7z"/><path d="M920.5 318.1l6.7 6.7l-6.7 6.7l-6.7 -6.7z"/><path d="M927.2 318.1l6.7 6.7l-6.7 6.7l-6.7 -6.7z"/></g>
</g>
<path d="M670.5 219.9H784" stroke="#7f00ff" stroke-width="5.8" fill="none"/>
<path d="M690.5 210.2L669.8 219.9L690.5 229.6M763.5 210.2L784.5 219.9L763.5 229.6" stroke="#7f00ff" stroke-width="4.2" fill="none" stroke-linejoin="miter" stroke-miterlimit="10"/>
<path d="M594 288H665" stroke="#3f79e8" stroke-width="4" fill="none"/>
<path d="M614 278.8L592.5 288L614 297.2" stroke="#3f79e8" stroke-width="4.5" fill="none" stroke-linejoin="miter" stroke-miterlimit="10"/>
<text x="665" y="264.6" font-size="23.1" font-weight="bold" fill="#7f00ff">broadening</text>
<text x="670" y="310.4" font-size="22.9" font-weight="bold" fill="#2b78e4">softening</text>
<rect x="564.5" y="42.7" width="366.8" height="284.5" fill="none" stroke="#000" stroke-width="1.3"/>
<path d="M564.5 327.2v-6M631 327.2v-6M697.5 327.2v-6M764 327.2v-6M830.5 327.2v-6M897 327.2v-6" stroke="#000" stroke-width="1.3" fill="none"/>
<path d="M597.8 327.2v-3.5M664.2 327.2v-3.5M730.8 327.2v-3.5M797.2 327.2v-3.5M863.8 327.2v-3.5M930.2 327.2v-3.5" stroke="#000" stroke-width="1.3" fill="none"/>
<path d="M564.5 327.2h6M564.5 232.3h6M564.5 137.5h6M564.5 42.6h6" stroke="#000" stroke-width="1.3" fill="none"/>
<path d="M564.5 279.8h3.5M564.5 184.9h3.5M564.5 90h3.5" stroke="#000" stroke-width="1.3" fill="none"/>
<text x="564.5" y="349.8" font-size="20.6" text-anchor="middle">0</text>
<text x="631" y="349.8" font-size="20.6" text-anchor="middle">5</text>
<text x="697.5" y="349.8" font-size="20.6" text-anchor="middle">10</text>
<text x="764" y="349.8" font-size="20.6" text-anchor="middle">15</text>
<text x="830.5" y="349.8" font-size="20.6" text-anchor="middle">20</text>
<text x="897" y="349.8" font-size="20.6" text-anchor="middle">25</text>
<text x="558.2" y="333.7" font-size="20.6" text-anchor="end">0.00</text>
<text x="558.2" y="238.8" font-size="20.6" text-anchor="end">0.04</text>
<text x="558.2" y="144" font-size="20.6" text-anchor="end">0.08</text>
<text x="558.2" y="49.1" font-size="20.6" text-anchor="end">0.12</text>
<text x="487.5" y="42.2" font-size="39.5" font-weight="bold">c</text>
<text x="747.5" y="378" font-size="23" text-anchor="middle"><tspan font-style="italic">E</tspan> (meV)</text>
<text transform="translate(509 184) rotate(-90)" font-size="23" text-anchor="middle"><tspan dy="0">Phonon DOS (meV</tspan><tspan dy="-9.7" font-size="15.6">-1</tspan><tspan dy="9.7">)</tspan></text>
<text x="575.6" y="69" font-size="23"><tspan dy="0" font-style="italic">E</tspan><tspan dy="5.1" font-size="15.6">i</tspan><tspan dy="-5.1"> = 40 meV</tspan></text>
<text x="575.6" y="100.6" font-size="23">300K</text>
<path d="M766 62H786M798.5 62H819" stroke="#454545" stroke-width="1.6"/>
<rect x="787.8" y="57.9" width="8.2" height="8.2" fill="#fff" stroke="#454545" stroke-width="1.6"/>
<path d="M766 91.2H784.5M800 91.2H819" stroke="#ea3832" stroke-width="1.6"/>
<path d="M792.3 84.5l6.7 6.7l-6.7 6.7l-6.7 -6.7z" fill="#fff" stroke="#ea3832" stroke-width="1.6"/>
<text x="824.5" y="69" font-size="23">SrCuSb</text>
<text x="824.5" y="99" font-size="23" fill="#e8413c"><tspan dy="0">Sr</tspan><tspan dy="5.1" font-size="15.6">2</tspan><tspan dy="-5.1">ZnSb</tspan><tspan dy="5.1" font-size="15.6">2</tspan></text>
<!-- panel d -->
<path d="M589.9 482.5L740.3 494.7M756.3 495.9L911.3 507.7" stroke="#454545" stroke-width="1.6" fill="none"/>
<path d="M577.8 477.8h8.2v8.2h-8.2zM744.2 491.2h8.2v8.2h-8.2zM915.2 504.2h8.2v8.2h-8.2z" stroke="#454545" stroke-width="1.6" fill="#fff"/>
<path d="M589.7 584L740.5 616.9M756.1 620.6L911.5 659.8" stroke="#ea3832" stroke-width="1.6" fill="none"/>
<path d="M581.9 575.9l6.4 6.4l-6.4 6.4l-6.4 -6.4zM748.3 612.2l6.4 6.4l-6.4 6.4l-6.4 -6.4zM919.3 655.4l6.4 6.4l-6.4 6.4l-6.4 -6.4z" stroke="#ea3832" stroke-width="1.6" fill="#fff"/>
<rect x="564.5" y="427.3" width="366.9" height="284.8" fill="none" stroke="#000" stroke-width="1.3"/>
<path d="M575.4 712.1v-6M632.7 712.1v-6M690 712.1v-6M747.3 712.1v-6M804.6 712.1v-6M861.9 712.1v-6M919.2 712.1v-6" stroke="#000" stroke-width="1.3" fill="none"/>
<path d="M604 712.1v-3.5M661.3 712.1v-3.5M718.6 712.1v-3.5M775.9 712.1v-3.5M833.2 712.1v-3.5M890.5 712.1v-3.5" stroke="#000" stroke-width="1.3" fill="none"/>
<path d="M564.5 660.3h6M564.5 582.3h6M564.5 504.3h6M564.5 426.3h6" stroke="#000" stroke-width="1.3" fill="none"/>
<path d="M564.5 699.3h3.5M564.5 621.3h3.5M564.5 543.3h3.5M564.5 465.3h3.5" stroke="#000" stroke-width="1.3" fill="none"/>
<text x="575.4" y="734.7" font-size="20.6" text-anchor="middle">0</text>
<text x="632.7" y="734.7" font-size="20.6" text-anchor="middle">50</text>
<text x="690" y="734.7" font-size="20.6" text-anchor="middle">100</text>
<text x="747.3" y="734.7" font-size="20.6" text-anchor="middle">150</text>
<text x="804.6" y="734.7" font-size="20.6" text-anchor="middle">200</text>
<text x="861.9" y="734.7" font-size="20.6" text-anchor="middle">250</text>
<text x="919.2" y="734.7" font-size="20.6" text-anchor="middle">300</text>
<text x="558.2" y="666.8" font-size="20.6" text-anchor="end">13.4</text>
<text x="558.2" y="588.8" font-size="20.6" text-anchor="end">13.7</text>
<text x="558.2" y="510.8" font-size="20.6" text-anchor="end">14.0</text>
<text x="558.2" y="432.8" font-size="20.6" text-anchor="end">14.3</text>
<text x="486.5" y="432.2" font-size="39.5" font-weight="bold">d</text>
<text x="749" y="763" font-size="23" text-anchor="middle"><tspan font-style="italic">T</tspan> (K)</text>
<text transform="translate(510.3 570) rotate(-90)" font-size="23" text-anchor="middle">⟨<tspan font-style="italic">E</tspan>⟩ (meV)</text>
<text x="835" y="492.5" font-size="23">SrCuSb</text>
<text x="817" y="631" font-size="23" fill="#e8413c"><tspan dy="0">Sr</tspan><tspan dy="5.1" font-size="15.6">2</tspan><tspan dy="-5.1">ZnSb</tspan><tspan dy="5.1" font-size="15.6">2</tspan></text>
<text x="643.5" y="520.5" style="font-family:'Liberation Serif',serif;font-style:italic;font-size:26px">γ</text>
<path d="M650 500.6H661.5" stroke="#000" stroke-width="1.3"/>
<text x="663" y="522" font-size="23">~0.77</text>
<text x="644" y="639.5" style="font-family:'Liberation Serif',serif;font-size:26px" fill="#e8413c">γ</text>
<path d="M645 619.5H657" stroke="#e8413c" stroke-width="1.3"/>
<text x="662" y="641" font-size="23" fill="#e8413c">~2.90</text>
<!-- panel e -->
<path d="M1058.8 312.4C1061 312.4 1067.5 312.3 1072 312.2C1076.5 312.1 1081.7 311.9 1085.5 311.6C1089.3 311.3 1091.8 311.1 1095 310.5C1098.2 309.9 1101.7 309 1104.5 308C1107.3 307 1109.5 306 1112 304.5C1114.5 303 1116.6 301.7 1119.8 299C1123 296.3 1127.4 293.5 1131.2 288.4C1135 283.3 1138.8 276.7 1142.6 268.6C1146.4 260.5 1150.2 250.5 1154 240C1157.8 229.5 1162 216.2 1165.5 205.7C1169 195.2 1171.8 186 1175 177.1C1178.2 168.2 1182.2 157.7 1184.5 152.4C1186.8 147.1 1187.7 147.2 1189 145.5C1190.3 143.8 1191.1 143 1192.1 142.1C1193.1 141.2 1194 140.3 1195 139.8C1196 139.3 1196.9 139 1197.9 139C1198.9 139 1199.4 138.9 1201 139.6C1202.6 140.2 1205.4 141.2 1207.4 142.9C1209.4 144.6 1211.1 147.5 1213 150C1214.9 152.5 1217.1 156.1 1218.8 158.1C1220.5 160.1 1221.4 159.8 1223 162C1224.6 164.2 1226.8 169.5 1228.3 171.4C1229.8 173.3 1230.7 173.1 1232 173.6C1233.3 174.1 1234.4 174.6 1236 174.5C1237.6 174.4 1239.9 174.3 1241.4 173.3C1242.9 172.3 1243.7 171 1245 168.5C1246.3 166 1247 163.7 1249 158.1C1251 152.5 1254.2 143.1 1256.7 135.2C1259.2 127.3 1261.8 118.4 1264.3 110.5C1266.8 102.6 1269.4 93.9 1271.9 87.6C1274.4 81.2 1277.7 75.6 1279.5 72.4C1281.3 69.2 1282 69.3 1283 68.4C1284 67.5 1284.4 67.3 1285.2 67.2C1286 67.1 1287 67.3 1288 67.6C1289 67.9 1290 68.2 1291.3 69.2C1292.6 70.2 1294.3 71.5 1295.8 73.8C1297.2 76.1 1298.2 77.6 1300 82.8C1301.8 88 1304.1 96.1 1306.4 104.8C1308.7 113.5 1311.3 123.8 1313.8 135.2C1316.3 146.6 1318.9 161.2 1321.4 173.3C1323.9 185.4 1326.5 196.8 1329 207.6C1331.5 218.4 1334.2 228.6 1336.7 238.1C1339.2 247.6 1341.8 257.2 1344.3 264.8C1346.8 272.4 1349.4 278.4 1351.9 283.8C1354.4 289.2 1357 293.6 1359.5 297.1C1362 300.6 1364.2 302.6 1367.1 304.8C1370 307 1372.2 309.3 1376.7 310.5C1381.2 311.7 1385.6 311.5 1393.8 312C1402 312.5 1420.6 313.2 1426 313.5" fill="none" stroke="#404040" stroke-width="1.5" stroke-linejoin="round"/>
<path d="M1058.8 311.2C1061 311.2 1067.5 311.1 1072 311C1076.5 310.9 1081.7 310.8 1085.5 310.5C1089.3 310.2 1091.8 309.8 1095 309.2C1098.2 308.6 1101.7 307.8 1104.5 306.7C1107.3 305.6 1109.5 304.3 1112 302.5C1114.5 300.7 1116.6 299.1 1119.8 296C1123 292.9 1127.4 289.3 1131.2 283.8C1135 278.3 1138.8 271.1 1142.6 262.9C1146.4 254.6 1150.2 244.8 1154 234.3C1157.8 223.8 1162 210.5 1165.5 200C1169 189.5 1171.8 180 1175 171.4C1178.2 162.8 1182.2 153.6 1184.5 148.6C1186.8 143.6 1187.7 143.2 1189 141.5C1190.3 139.8 1191.5 138.8 1192.6 138.3C1193.7 137.8 1194.6 138.1 1195.5 138.3C1196.4 138.6 1195.9 137.8 1197.9 139.8C1199.9 141.8 1203.9 145.9 1207.4 150.5C1210.9 155.1 1215.4 162.5 1218.8 167.6C1222.2 172.7 1225.8 177.8 1228 181C1230.2 184.2 1231 185.9 1232.1 186.7C1233.2 187.5 1233.6 186.9 1234.5 186C1235.4 185.1 1235.8 185.4 1237.6 181.5C1239.4 177.6 1242.7 169.5 1245.2 162.5C1247.8 155.5 1250.4 147.5 1252.9 139.5C1255.5 131.5 1258 122.3 1260.5 114.3C1263 106.3 1265.6 98.1 1268.1 91.4C1270.6 84.7 1273.7 78 1275.7 74.3C1277.7 70.6 1278.7 70.2 1280 69C1281.3 67.8 1282.2 67.4 1283.3 67.2C1284.4 67 1285.2 66.9 1286.5 67.8C1287.8 68.7 1289 68.8 1291 72.4C1293 76 1296.1 82.2 1298.6 89.5C1301.1 96.8 1303.7 106 1306.2 116.2C1308.7 126.4 1311.3 138.2 1313.8 150.5C1316.3 162.8 1318.9 177.9 1321.4 190C1323.9 202.1 1326.5 212.3 1329 222.9C1331.5 233.5 1334.2 244.4 1336.7 253.3C1339.2 262.2 1341.8 269.9 1344.3 276.2C1346.8 282.5 1349.4 286.9 1351.9 291.4C1354.4 295.8 1357 300 1359.5 302.9C1362 305.8 1364.2 307.2 1367.1 308.6C1370 310 1372.2 310.5 1376.7 311.2C1381.2 311.9 1385.6 312.4 1393.8 312.8C1402 313.2 1420.6 313.4 1426 313.5" fill="none" stroke="#ea2d2d" stroke-width="1.5" stroke-linejoin="round"/>
<rect x="1059.1" y="42.7" width="366.9" height="284.4" fill="none" stroke="#000" stroke-width="1.3"/>
<path d="M1138.6 327.1v-6M1243 327.1v-6M1347.4 327.1v-6" stroke="#000" stroke-width="1.3" fill="none"/>
<path d="M1086.4 327.1v-3.5M1190.8 327.1v-3.5M1295.2 327.1v-3.5M1399.6 327.1v-3.5" stroke="#000" stroke-width="1.3" fill="none"/>
<path d="M1059.1 314.5h6M1059.1 190.7h6M1059.1 66.9h6" stroke="#000" stroke-width="1.3" fill="none"/>
<path d="M1059.1 252.6h3.5M1059.1 128.8h3.5" stroke="#000" stroke-width="1.3" fill="none"/>
<text x="1138.6" y="349.7" font-size="20.6" text-anchor="middle">136</text>
<text x="1243" y="349.7" font-size="20.6" text-anchor="middle">134</text>
<text x="1347.4" y="349.7" font-size="20.6" text-anchor="middle">132</text>
<text x="1052.8" y="321" font-size="20.6" text-anchor="end">0.0</text>
<text x="1052.8" y="197.2" font-size="20.6" text-anchor="end">0.5</text>
<text x="1052.8" y="73.4" font-size="20.6" text-anchor="end">1.0</text>
<text x="973" y="42.2" font-size="39.5" font-weight="bold">e</text>
<text x="1242" y="385" font-size="23" text-anchor="middle">Binding Energy (eV)</text>
<text transform="translate(1016.5 186.3) rotate(-90)" font-size="22.8" text-anchor="middle">Normalized Counts (arb. units)</text>
<path d="M1072 61.5H1124" stroke="#404040" stroke-width="1.5"/>
<path d="M1072 90H1124" stroke="#ea2d2d" stroke-width="1.5"/>
<text x="1131" y="69" font-size="23">SrCuSb</text>
<text x="1131" y="99" font-size="23" fill="#e8413c"><tspan dy="0">Sr</tspan><tspan dy="5.1" font-size="15.6">2</tspan><tspan dy="-5.1">ZnSb</tspan><tspan dy="5.1" font-size="15.6">2</tspan></text>
<text x="1314.6" y="91.4" font-size="23" fill="#2b78e4"><tspan dy="0">Sr 3d</tspan><tspan dy="5.1" font-size="15.6">5/2</tspan></text>
<text x="1092" y="161" font-size="23" fill="#2b78e4"><tspan dy="0">Sr 3d</tspan><tspan dy="5.1" font-size="15.6">3/2</tspan></text>
<text x="1336" y="150.5" font-size="26">XPS</text>
<text x="1336" y="181.7" font-size="26">300K</text>
<path d="M1315.7 59.8H1279.8" stroke="#000" stroke-width="1.8"/>
<path d="M1273.8 59.8l15 -4.6l-3.2 4.6l3.2 4.6z" fill="#000"/>
<path d="M1219.6 129.9H1182.9" stroke="#000" stroke-width="1.8"/>
<path d="M1176.9 129.9l15 -4.6l-3.2 4.6l3.2 4.6z" fill="#000"/>
<!-- panel f -->
<text x="977" y="432.2" font-size="39.5" font-weight="bold">f</text>
<defs>
<filter id="b3" x="-50%" y="-50%" width="200%" height="200%"><feGaussianBlur stdDeviation="2.6"/></filter>
<filter id="b2" x="-50%" y="-50%" width="200%" height="200%"><feGaussianBlur stdDeviation="1.8"/></filter>
<radialGradient id="gB"><stop offset="0" stop-color="#5a50f0"/><stop offset="0.3" stop-color="#3060ff"/><stop offset="0.5" stop-color="#20d0e8"/><stop offset="0.7" stop-color="#50f070"/><stop offset="0.88" stop-color="#d0f040" stop-opacity="0.8"/><stop offset="1" stop-color="#ffe040" stop-opacity="0"/></radialGradient>
<radialGradient id="gG"><stop offset="0" stop-color="#50f048"/><stop offset="0.55" stop-color="#70f048"/><stop offset="1" stop-color="#d8f040" stop-opacity="0"/></radialGradient>
<radialGradient id="sBl" cx="0.5" cy="0.53" r="0.62"><stop offset="0" stop-color="#d8ffff"/><stop offset="0.17" stop-color="#62c8ff"/><stop offset="0.38" stop-color="#2a8ee8"/><stop offset="0.8" stop-color="#1663bd"/><stop offset="1" stop-color="#0c3f88"/></radialGradient>
<radialGradient id="sOr" cx="0.45" cy="0.45" r="0.65"><stop offset="0" stop-color="#fff090"/><stop offset="0.18" stop-color="#ffb840"/><stop offset="0.45" stop-color="#f09020"/><stop offset="0.85" stop-color="#c06808"/><stop offset="1" stop-color="#8a4800"/></radialGradient>
<radialGradient id="sPu" cx="0.48" cy="0.48" r="0.65"><stop offset="0" stop-color="#f4f0ff"/><stop offset="0.4" stop-color="#9a8ee6"/><stop offset="0.85" stop-color="#7064c0"/><stop offset="1" stop-color="#4a4090"/></radialGradient>
<radialGradient id="sPk" cx="0.42" cy="0.38" r="0.65"><stop offset="0" stop-color="#ffc8ff"/><stop offset="0.5" stop-color="#e888e8"/><stop offset="1" stop-color="#b050b0"/></radialGradient>
<linearGradient id="gArr" x1="0" x2="1" y1="0" y2="0"><stop offset="0" stop-color="#f6f0ff"/><stop offset="0.5" stop-color="#e6d4ff"/><stop offset="1" stop-color="#d4aaff"/></linearGradient>
<clipPath id="rh1"><path d="M1025.5 476.1L1109.9 427L1194.6 476.1L1109.9 525z"/></clipPath>
<clipPath id="rh2"><path d="M1246.7 476.1L1326 430.1L1405.4 476.1L1326 522.2z"/></clipPath>
</defs>
<g clip-path="url(#rh1)">
<rect x="1020" y="420" width="180" height="110" fill="#ffb04a"/>
<g fill="#ff5454" filter="url(#b3)"><ellipse cx="1110" cy="451.7" rx="5.5" ry="8"/><ellipse cx="1067.5" cy="476.1" rx="5.5" ry="8"/><ellipse cx="1152.3" cy="476.1" rx="5.5" ry="8"/><ellipse cx="1110" cy="500.6" rx="5.5" ry="8"/><ellipse cx="1090" cy="464" rx="6" ry="6"/><ellipse cx="1130.5" cy="463" rx="6" ry="6"/><ellipse cx="1090" cy="488.2" rx="6" ry="6"/><ellipse cx="1130.5" cy="489.3" rx="6" ry="6"/><ellipse cx="1086" cy="440" rx="11" ry="4.5"/><ellipse cx="1134" cy="440" rx="11" ry="4.5"/><ellipse cx="1086" cy="512.3" rx="11" ry="4.5"/><ellipse cx="1134" cy="512.3" rx="11" ry="4.5"/><ellipse cx="1041" cy="466" rx="10" ry="4.5"/><ellipse cx="1041" cy="486.2" rx="10" ry="4.5"/><ellipse cx="1179" cy="466" rx="10" ry="4.5"/><ellipse cx="1179" cy="486.2" rx="10" ry="4.5"/></g>
<g fill="#f8f44c" filter="url(#b3)"><circle cx="1109.9" cy="476.1" r="10.5"/><circle cx="1109.9" cy="431" r="10"/><circle cx="1109.9" cy="521" r="10"/><circle cx="1029" cy="476.1" r="8"/><circle cx="1191" cy="476.1" r="8"/><circle cx="1068" cy="456" r="10.5"/><circle cx="1151.5" cy="456" r="10.5"/><circle cx="1068" cy="496.3" r="10.5"/><circle cx="1151.5" cy="496.3" r="10.5"/></g>
<g fill="#c8f03c" filter="url(#b2)"><ellipse cx="1126.6" cy="451.7" rx="8.5" ry="7.5"/><ellipse cx="1084" cy="476.1" rx="8.5" ry="7.5"/><ellipse cx="1168.9" cy="476.1" rx="8.5" ry="7.5"/><ellipse cx="1126.6" cy="500.6" rx="8.5" ry="7.5"/></g>
<circle cx="1096" cy="451.7" r="10.5" fill="url(#gB)"/>
<circle cx="1053.4" cy="476.1" r="10.5" fill="url(#gB)"/>
<circle cx="1138.2" cy="476.1" r="10.5" fill="url(#gB)"/>
<circle cx="1096" cy="500.6" r="10.5" fill="url(#gB)"/>
<g fill="none" stroke="#3c2c00" stroke-width="0.55" stroke-opacity="0.85"><circle cx="1096" cy="451.7" r="9.3"/><circle cx="1053.4" cy="476.1" r="9.3"/><circle cx="1138.2" cy="476.1" r="9.3"/><circle cx="1096" cy="500.6" r="9.3"/><circle cx="1109.9" cy="476.1" r="11"/><path d="M1116.6 451.7q-1.5 -9.5 2 -11q13 1.5 18.5 11q-5.5 9.5 -18.5 11q-3.5 -1.5 -2 -11z"/><path d="M1074 476.1q-1.5 -9.5 2 -11q13 1.5 18.5 11q-5.5 9.5 -18.5 11q-3.5 -1.5 -2 -11z"/><path d="M1158.9 476.1q-1.5 -9.5 2 -11q13 1.5 18.5 11q-5.5 9.5 -18.5 11q-3.5 -1.5 -2 -11z"/><path d="M1116.6 500.6q-1.5 -9.5 2 -11q13 1.5 18.5 11q-5.5 9.5 -18.5 11q-3.5 -1.5 -2 -11z"/><path d="M1100.5 432.5q9.4 6 18.8 0M1100.5 519.5q9.4 -6 18.8 0M1035 470q3 6 0 12.2M1184.5 470q-3 6 0 12.2"/><path d="M1058 457.5q6 6.5 17 2.5q5 -7 1 -17M1162 457.5q-6 6.5 -17 2.5q-5 -7 -1 -17M1058 494.7q6 -6.5 17 -2.5q5 7 1 17M1162 494.7q-6 -6.5 -17 -2.5q-5 7 -1 17"/></g>
</g>
<path d="M1096 451.7L1088.8 463.9" stroke="#9a9af4" stroke-width="1.6"/><path d="M1088.8 463.9L1081.5 476.1" stroke="#d8801c" stroke-width="1.6"/>
<path d="M1096 500.6L1088.8 488.4" stroke="#9a9af4" stroke-width="1.6"/><path d="M1088.8 488.4L1081.5 476.1" stroke="#d8801c" stroke-width="1.6"/>
<path d="M1096 500.6L1110 500.6" stroke="#9a9af4" stroke-width="1.6"/><path d="M1110 500.6L1124.1 500.6" stroke="#d8801c" stroke-width="1.6"/>
<path d="M1138.2 476.1L1131.2 488.4" stroke="#9a9af4" stroke-width="1.6"/><path d="M1131.2 488.4L1124.1 500.6" stroke="#d8801c" stroke-width="1.6"/>
<path d="M1138.2 476.1L1131.2 463.9" stroke="#9a9af4" stroke-width="1.6"/><path d="M1131.2 463.9L1124.1 451.7" stroke="#d8801c" stroke-width="1.6"/>
<path d="M1096 451.7L1110 451.7" stroke="#9a9af4" stroke-width="1.6"/><path d="M1110 451.7L1124.1 451.7" stroke="#d8801c" stroke-width="1.6"/>
<path d="M1053.4 476.1L1067.5 476.1" stroke="#9a9af4" stroke-width="1.6"/><path d="M1067.5 476.1L1081.5 476.1" stroke="#d8801c" stroke-width="1.6"/>
<path d="M1138.2 476.1L1152.3 476.1" stroke="#9a9af4" stroke-width="1.6"/><path d="M1152.3 476.1L1166.4 476.1" stroke="#d8801c" stroke-width="1.6"/>
<circle cx="1096" cy="451.7" r="2.7" fill="#8a86ea"/><circle cx="1095.7" cy="451.3" r="1.1" fill="#e8e8ff"/>
<circle cx="1053.4" cy="476.1" r="2.7" fill="#8a86ea"/><circle cx="1053.1" cy="475.7" r="1.1" fill="#e8e8ff"/>
<circle cx="1138.2" cy="476.1" r="2.7" fill="#8a86ea"/><circle cx="1137.9" cy="475.7" r="1.1" fill="#e8e8ff"/>
<circle cx="1096" cy="500.6" r="2.7" fill="#8a86ea"/><circle cx="1095.7" cy="500.2" r="1.1" fill="#e8e8ff"/>
<circle cx="1124.1" cy="451.7" r="2.6" fill="#e0861c"/><circle cx="1123.7" cy="451.2" r="0.9" fill="#ffd090"/>
<circle cx="1081.5" cy="476.1" r="2.6" fill="#e0861c"/><circle cx="1081.1" cy="475.6" r="0.9" fill="#ffd090"/>
<circle cx="1166.4" cy="476.1" r="2.6" fill="#e0861c"/><circle cx="1166" cy="475.6" r="0.9" fill="#ffd090"/>
<circle cx="1124.1" cy="500.6" r="2.6" fill="#e0861c"/><circle cx="1123.7" cy="500.1" r="0.9" fill="#ffd090"/>
<g clip-path="url(#rh2)">
<rect x="1240" y="425" width="170" height="102" fill="#ffe93a"/>
<g fill="#ff5a3c" filter="url(#b3)"><ellipse cx="1326.5" cy="453" rx="4.8" ry="10" transform="rotate(0 1326.5 453)"/><ellipse cx="1326.5" cy="499.3" rx="4.8" ry="10" transform="rotate(0 1326.5 499.3)"/><ellipse cx="1287" cy="476.1" rx="4.8" ry="10" transform="rotate(0 1287 476.1)"/><ellipse cx="1366" cy="476.1" rx="4.8" ry="10" transform="rotate(0 1366 476.1)"/><ellipse cx="1308" cy="465.5" rx="4.6" ry="9.5" transform="rotate(-60 1308 465.5)"/><ellipse cx="1308" cy="486.8" rx="4.6" ry="9.5" transform="rotate(60 1308 486.8)"/><ellipse cx="1347.5" cy="463.5" rx="4.6" ry="9.5" transform="rotate(60 1347.5 463.5)"/><ellipse cx="1347.5" cy="488.8" rx="4.6" ry="9.5" transform="rotate(-60 1347.5 488.8)"/><ellipse cx="1305.5" cy="441" rx="11" ry="5" transform="rotate(-30 1305.5 441)"/><ellipse cx="1347.5" cy="441" rx="11" ry="5" transform="rotate(30 1347.5 441)"/><ellipse cx="1305.5" cy="511.3" rx="11" ry="5" transform="rotate(30 1305.5 511.3)"/><ellipse cx="1347.5" cy="511.3" rx="11" ry="5" transform="rotate(-30 1347.5 511.3)"/><ellipse cx="1265.5" cy="464" rx="11" ry="5" transform="rotate(-30 1265.5 464)"/><ellipse cx="1265.5" cy="488.2" rx="11" ry="5" transform="rotate(30 1265.5 488.2)"/><ellipse cx="1387.5" cy="464" rx="11" ry="5" transform="rotate(30 1387.5 464)"/><ellipse cx="1387.5" cy="488.2" rx="11" ry="5" transform="rotate(-30 1387.5 488.2)"/></g>
<circle cx="1311.8" cy="453" r="11" fill="url(#gG)"/>
<circle cx="1272.4" cy="476.1" r="11" fill="url(#gG)"/>
<circle cx="1351.3" cy="476.1" r="11" fill="url(#gG)"/>
<circle cx="1311.8" cy="499.3" r="11" fill="url(#gG)"/>
<g fill="#c8f03c" filter="url(#b2)"><circle cx="1342.2" cy="453" r="4"/><circle cx="1302.7" cy="476.1" r="4"/><circle cx="1382" cy="476.1" r="4"/><circle cx="1342.2" cy="499.3" r="4"/></g>
<g fill="none" stroke="#3c2c00" stroke-width="0.55" stroke-opacity="0.85"><rect x="1321" y="441.5" width="11" height="23" rx="4.5"/><rect x="1321" y="487.8" width="11" height="23" rx="4.5"/><rect x="1281.5" y="464.6" width="11" height="23" rx="4.5"/><rect x="1360.5" y="464.6" width="11" height="23" rx="4.5"/><rect x="1302.5" y="455" width="11" height="21" rx="4.5" transform="rotate(-60 1308 465.5)"/><rect x="1302.5" y="476.3" width="11" height="21" rx="4.5" transform="rotate(60 1308 486.8)"/><rect x="1342" y="453" width="11" height="21" rx="4.5" transform="rotate(60 1347.5 463.5)"/><rect x="1342" y="478.3" width="11" height="21" rx="4.5" transform="rotate(-60 1347.5 488.8)"/><path d="M1337.7 453q0 -10 2 -11q9 2 11 11q-2 9 -11 11q-2 -1 -2 -11z"/><path d="M1298.2 476.1q0 -10 2 -11q9 2 11 11q-2 9 -11 11q-2 -1 -2 -11z"/><path d="M1377.5 476.1q0 -10 2 -11q9 2 11 11q-2 9 -11 11q-2 -1 -2 -11z"/><path d="M1337.7 499.3q0 -10 2 -11q9 2 11 11q-2 9 -11 11q-2 -1 -2 -11z"/><path d="M1296 448q10 -2 17 -9.5q1 -3 -1 -6M1356 448q-10 -2 -17 -9.5q-1 -3 1 -6M1296 504.3q10 2 17 9.5q1 3 -1 6M1356 504.3q-10 2 -17 9.5q-1 3 1 6"/><path d="M1256 470.5q12 -2 17.5 -8.5q0.5 -3 -0.5 -6M1256 481.7q12 2 17.5 8.5q0.5 3 -0.5 6M1396 470.5q-12 -2 -17.5 -8.5q-0.5 -3 0.5 -6M1396 481.7q-12 2 -17.5 8.5q-0.5 3 0.5 6"/></g>
</g>
<path d="M1312.8 453L1306.2 464.6" stroke="#e48ae4" stroke-width="1.6"/><path d="M1306.2 464.6L1299.7 476.1" stroke="#d8801c" stroke-width="1.6"/>
<path d="M1312.8 499.3L1306.2 487.7" stroke="#e48ae4" stroke-width="1.6"/><path d="M1306.2 487.7L1299.7 476.1" stroke="#d8801c" stroke-width="1.6"/>
<path d="M1312.8 499.3L1326 499.3" stroke="#e48ae4" stroke-width="1.6"/><path d="M1326 499.3L1339.2 499.3" stroke="#d8801c" stroke-width="1.6"/>
<path d="M1352.3 476.1L1345.8 487.7" stroke="#e48ae4" stroke-width="1.6"/><path d="M1345.8 487.7L1339.2 499.3" stroke="#d8801c" stroke-width="1.6"/>
<path d="M1352.3 476.1L1345.8 464.6" stroke="#e48ae4" stroke-width="1.6"/><path d="M1345.8 464.6L1339.2 453" stroke="#d8801c" stroke-width="1.6"/>
<path d="M1312.8 453L1326 453" stroke="#e48ae4" stroke-width="1.6"/><path d="M1326 453L1339.2 453" stroke="#d8801c" stroke-width="1.6"/>
<path d="M1273.4 476.1L1286.6 476.1" stroke="#e48ae4" stroke-width="1.6"/><path d="M1286.6 476.1L1299.7 476.1" stroke="#d8801c" stroke-width="1.6"/>
<path d="M1352.3 476.1L1365.7 476.1" stroke="#e48ae4" stroke-width="1.6"/><path d="M1365.7 476.1L1379 476.1" stroke="#d8801c" stroke-width="1.6"/>
<circle cx="1312.8" cy="453" r="2.5" fill="#e070e0"/><circle cx="1312.5" cy="452.6" r="1" fill="#ffe0ff"/>
<circle cx="1273.4" cy="476.1" r="2.5" fill="#e070e0"/><circle cx="1273.1" cy="475.7" r="1" fill="#ffe0ff"/>
<circle cx="1352.3" cy="476.1" r="2.5" fill="#e070e0"/><circle cx="1352" cy="475.7" r="1" fill="#ffe0ff"/>
<circle cx="1312.8" cy="499.3" r="2.5" fill="#e070e0"/><circle cx="1312.5" cy="498.9" r="1" fill="#ffe0ff"/>
<circle cx="1339.2" cy="453" r="2.5" fill="#e0861c"/><circle cx="1338.8" cy="452.5" r="0.9" fill="#ffd090"/>
<circle cx="1299.7" cy="476.1" r="2.5" fill="#e0861c"/><circle cx="1299.3" cy="475.6" r="0.9" fill="#ffd090"/>
<circle cx="1379" cy="476.1" r="2.5" fill="#e0861c"/><circle cx="1378.6" cy="475.6" r="0.9" fill="#ffd090"/>
<circle cx="1339.2" cy="499.3" r="2.5" fill="#e0861c"/><circle cx="1338.8" cy="498.8" r="0.9" fill="#ffd090"/>
<path d="M1205.2 511.3H1222V455.1L1238.8 567L1222 681.3V625.5H1205.2z" fill="url(#gArr)"/>
<path d="M1051.4 565.2L1101.8 557.8L1165.9 561.4M1051.4 693.4L1101.8 686L1165.9 689.6M1101.8 557.8V686M1165.9 561.4V689.6" fill="none" stroke="#777" stroke-width="1" stroke-dasharray="2.8 2.4"/>
<path d="M1051.4 565.2L1115.4 568.8L1165.9 561.4M1051.4 693.4L1115.4 697L1165.9 689.6M1051.4 565.2V693.4M1115.4 568.8V697" fill="none" stroke="#151515" stroke-width="1" stroke-dasharray="2.8 2.4"/>
<ellipse cx="1101.8" cy="558.3" rx="6.2" ry="6.2" fill="url(#sBl)" stroke="#0a2a50" stroke-width="0.5"/><ellipse cx="1101.8" cy="558.3" rx="6.2" ry="6.2" fill="#fff" opacity="0.2"/><path d="M1095.5 558.5Q1101.8 559.5 1108 558.5M1100.5 552.2Q1098.5 558.3 1100.5 564.4" fill="none" stroke="#101820" stroke-width="0.8"/>
<ellipse cx="1051.4" cy="565.7" rx="6.2" ry="6.2" fill="url(#sBl)" stroke="#0a2a50" stroke-width="0.5"/><path d="M1045.2 566Q1051.4 567 1057.7 566M1050.2 559.6Q1048.2 565.7 1050.2 571.8" fill="none" stroke="#101820" stroke-width="0.8"/>
<ellipse cx="1165.9" cy="561.9" rx="6.2" ry="6.2" fill="url(#sBl)" stroke="#0a2a50" stroke-width="0.5"/><path d="M1159.7 562.1Q1165.9 563.1 1172.2 562.1M1164.7 555.8Q1162.7 561.9 1164.7 568" fill="none" stroke="#101820" stroke-width="0.8"/>
<ellipse cx="1115.4" cy="569.3" rx="6.2" ry="6.2" fill="url(#sBl)" stroke="#0a2a50" stroke-width="0.5"/><path d="M1109.2 569.5Q1115.4 570.5 1121.7 569.5M1114.2 563.2Q1112.2 569.3 1114.2 575.4" fill="none" stroke="#101820" stroke-width="0.8"/>
<ellipse cx="1089.9" cy="595.8" rx="6.8" ry="7.2" fill="url(#sOr)" stroke="#0a2a50" stroke-width="0.5"/><path d="M1083.1 596.1Q1089.9 597.2 1096.7 596.1M1088.5 588.8Q1086.4 595.8 1088.5 602.8" fill="none" stroke="#101820" stroke-width="0.8"/>
<ellipse cx="1127.9" cy="594.9" rx="6.3" ry="6.3" fill="url(#sPu)" stroke="#0a2a50" stroke-width="0.5"/><path d="M1121.6 595.2Q1127.9 596.2 1134.2 595.2M1126.6 588.8Q1124.6 594.9 1126.6 601" fill="none" stroke="#101820" stroke-width="0.8"/>
<ellipse cx="1101.8" cy="622.1" rx="6.2" ry="6.2" fill="url(#sBl)" stroke="#0a2a50" stroke-width="0.5"/><ellipse cx="1101.8" cy="622.1" rx="6.2" ry="6.2" fill="#fff" opacity="0.2"/><path d="M1095.5 622.3Q1101.8 623.3 1108 622.3M1100.5 616Q1098.5 622.1 1100.5 628.2" fill="none" stroke="#101820" stroke-width="0.8"/>
<ellipse cx="1051.4" cy="629.5" rx="6.2" ry="6.2" fill="url(#sBl)" stroke="#0a2a50" stroke-width="0.5"/><path d="M1045.2 629.8Q1051.4 630.8 1057.7 629.8M1050.2 623.4Q1048.2 629.5 1050.2 635.6" fill="none" stroke="#101820" stroke-width="0.8"/>
<ellipse cx="1165.9" cy="625.7" rx="6.2" ry="6.2" fill="url(#sBl)" stroke="#0a2a50" stroke-width="0.5"/><path d="M1159.7 625.9Q1165.9 626.9 1172.2 625.9M1164.7 619.6Q1162.7 625.7 1164.7 631.8" fill="none" stroke="#101820" stroke-width="0.8"/>
<ellipse cx="1115.4" cy="633.1" rx="6.2" ry="6.2" fill="url(#sBl)" stroke="#0a2a50" stroke-width="0.5"/><path d="M1109.2 633.3Q1115.4 634.3 1121.7 633.3M1114.2 627Q1112.2 633.1 1114.2 639.2" fill="none" stroke="#101820" stroke-width="0.8"/>
<ellipse cx="1089.9" cy="660.1" rx="6.3" ry="6.3" fill="url(#sPu)" stroke="#0a2a50" stroke-width="0.5"/><path d="M1083.6 660.4Q1089.9 661.4 1096.2 660.4M1088.6 654Q1086.6 660.1 1088.6 666.2" fill="none" stroke="#101820" stroke-width="0.8"/>
<ellipse cx="1127.9" cy="658.7" rx="6.8" ry="7.2" fill="url(#sOr)" stroke="#0a2a50" stroke-width="0.5"/><path d="M1121.1 659Q1127.9 660.1 1134.7 659M1126.5 651.7Q1124.4 658.7 1126.5 665.7" fill="none" stroke="#101820" stroke-width="0.8"/>
<ellipse cx="1101.8" cy="686.5" rx="6.2" ry="6.2" fill="url(#sBl)" stroke="#0a2a50" stroke-width="0.5"/><ellipse cx="1101.8" cy="686.5" rx="6.2" ry="6.2" fill="#fff" opacity="0.2"/><path d="M1095.5 686.8Q1101.8 687.8 1108 686.8M1100.5 680.4Q1098.5 686.5 1100.5 692.6" fill="none" stroke="#101820" stroke-width="0.8"/>
<ellipse cx="1051.4" cy="693.9" rx="6.2" ry="6.2" fill="url(#sBl)" stroke="#0a2a50" stroke-width="0.5"/><path d="M1045.2 694.2Q1051.4 695.2 1057.7 694.2M1050.2 687.8Q1048.2 693.9 1050.2 700" fill="none" stroke="#101820" stroke-width="0.8"/>
<ellipse cx="1165.9" cy="690.1" rx="6.2" ry="6.2" fill="url(#sBl)" stroke="#0a2a50" stroke-width="0.5"/><path d="M1159.7 690.3Q1165.9 691.3 1172.2 690.3M1164.7 684Q1162.7 690.1 1164.7 696.2" fill="none" stroke="#101820" stroke-width="0.8"/>
<ellipse cx="1115.4" cy="697.5" rx="6.2" ry="6.2" fill="url(#sBl)" stroke="#0a2a50" stroke-width="0.5"/><path d="M1109.2 697.8Q1115.4 698.8 1121.7 697.8M1114.2 691.4Q1112.2 697.5 1114.2 703.6" fill="none" stroke="#101820" stroke-width="0.8"/>
<text x="1110" y="744" font-size="23" text-anchor="middle">SrCuSb</text>
<path d="M1269.1 566.7L1319.5 558.4L1383.8 562.8M1269.1 694.9L1319.5 686.6L1383.8 691M1319.5 558.4V686.6M1383.8 562.8V691" fill="none" stroke="#777" stroke-width="1" stroke-dasharray="2.8 2.4"/>
<path d="M1269.1 566.7L1333.4 569.7L1383.8 562.8M1269.1 694.9L1333.4 697.9L1383.8 691M1269.1 566.7V694.9M1333.4 569.7V697.9" fill="none" stroke="#151515" stroke-width="1" stroke-dasharray="2.8 2.4"/>
<ellipse cx="1319.5" cy="558.4" rx="13.4" ry="11" fill="url(#sBl)" stroke="#0a2a50" stroke-width="0.5"/><ellipse cx="1319.5" cy="558.4" rx="13.4" ry="11" fill="#fff" opacity="0.15"/><path d="M1306.1 558.8Q1319.5 560.6 1332.9 558.8M1316.8 547.7Q1312.5 558.4 1316.8 569.1" fill="none" stroke="#101820" stroke-width="0.9"/>
<ellipse cx="1269.1" cy="566.7" rx="13.4" ry="11" fill="url(#sBl)" stroke="#0a2a50" stroke-width="0.5"/><path d="M1255.7 567.1Q1269.1 568.9 1282.5 567.1M1266.4 556Q1262.1 566.7 1266.4 577.4" fill="none" stroke="#101820" stroke-width="0.9"/>
<ellipse cx="1383.8" cy="562.8" rx="13.4" ry="11" fill="url(#sBl)" stroke="#0a2a50" stroke-width="0.5"/><path d="M1370.4 563.2Q1383.8 565 1397.2 563.2M1381.1 552.1Q1376.8 562.8 1381.1 573.5" fill="none" stroke="#101820" stroke-width="0.9"/>
<ellipse cx="1333.4" cy="569.7" rx="13.4" ry="11" fill="url(#sBl)" stroke="#0a2a50" stroke-width="0.5"/><path d="M1320 570.1Q1333.4 571.9 1346.8 570.1M1330.7 559Q1326.4 569.7 1330.7 580.4" fill="none" stroke="#101820" stroke-width="0.9"/>
<ellipse cx="1307.6" cy="597.2" rx="7.4" ry="13.6" fill="url(#sOr)" stroke="#0a2a50" stroke-width="0.5"/><path d="M1300.2 597.7Q1307.6 599.9 1315 597.7M1306.1 584Q1303.8 597.2 1306.1 610.4" fill="none" stroke="#101820" stroke-width="0.8"/>
<ellipse cx="1345.3" cy="595.8" rx="2.7" ry="13" fill="url(#sPk)" stroke="#0a2a50" stroke-width="0.5"/><path d="M1342.6 596.3Q1345.3 598.4 1348 596.3M1344.8 583.2Q1343.9 595.8 1344.8 608.4" fill="none" stroke="#101820" stroke-width="0.6"/>
<ellipse cx="1319.5" cy="622.4" rx="13.4" ry="11" fill="url(#sBl)" stroke="#0a2a50" stroke-width="0.5"/><ellipse cx="1319.5" cy="622.4" rx="13.4" ry="11" fill="#fff" opacity="0.15"/><path d="M1306.1 622.8Q1319.5 624.6 1332.9 622.8M1316.8 611.7Q1312.5 622.4 1316.8 633.1" fill="none" stroke="#101820" stroke-width="0.9"/>
<ellipse cx="1269.1" cy="630.7" rx="13.4" ry="11" fill="url(#sBl)" stroke="#0a2a50" stroke-width="0.5"/><path d="M1255.7 631.1Q1269.1 632.9 1282.5 631.1M1266.4 620Q1262.1 630.7 1266.4 641.4" fill="none" stroke="#101820" stroke-width="0.9"/>
<ellipse cx="1383.8" cy="626.8" rx="13.4" ry="11" fill="url(#sBl)" stroke="#0a2a50" stroke-width="0.5"/><path d="M1370.4 627.2Q1383.8 629 1397.2 627.2M1381.1 616.1Q1376.8 626.8 1381.1 637.5" fill="none" stroke="#101820" stroke-width="0.9"/>
<ellipse cx="1333.4" cy="633.7" rx="13.4" ry="11" fill="url(#sBl)" stroke="#0a2a50" stroke-width="0.5"/><path d="M1320 634.1Q1333.4 635.9 1346.8 634.1M1330.7 623Q1326.4 633.7 1330.7 644.4" fill="none" stroke="#101820" stroke-width="0.9"/>
<ellipse cx="1307.6" cy="661" rx="2.7" ry="13" fill="url(#sPk)" stroke="#0a2a50" stroke-width="0.5"/><path d="M1304.9 661.5Q1307.6 663.6 1310.3 661.5M1307.1 648.4Q1306.2 661 1307.1 673.6" fill="none" stroke="#101820" stroke-width="0.6"/>
<ellipse cx="1345.6" cy="660.1" rx="7.4" ry="13.6" fill="url(#sOr)" stroke="#0a2a50" stroke-width="0.5"/><path d="M1338.2 660.6Q1345.6 662.8 1353 660.6M1344.1 646.9Q1341.8 660.1 1344.1 673.3" fill="none" stroke="#101820" stroke-width="0.8"/>
<ellipse cx="1319.5" cy="686.6" rx="13.4" ry="11" fill="url(#sBl)" stroke="#0a2a50" stroke-width="0.5"/><ellipse cx="1319.5" cy="686.6" rx="13.4" ry="11" fill="#fff" opacity="0.15"/><path d="M1306.1 687Q1319.5 688.8 1332.9 687M1316.8 675.9Q1312.5 686.6 1316.8 697.3" fill="none" stroke="#101820" stroke-width="0.9"/>
<ellipse cx="1269.1" cy="694.9" rx="13.4" ry="11" fill="url(#sBl)" stroke="#0a2a50" stroke-width="0.5"/><path d="M1255.7 695.3Q1269.1 697.1 1282.5 695.3M1266.4 684.2Q1262.1 694.9 1266.4 705.6" fill="none" stroke="#101820" stroke-width="0.9"/>
<ellipse cx="1383.8" cy="691" rx="13.4" ry="11" fill="url(#sBl)" stroke="#0a2a50" stroke-width="0.5"/><path d="M1370.4 691.4Q1383.8 693.2 1397.2 691.4M1381.1 680.3Q1376.8 691 1381.1 701.7" fill="none" stroke="#101820" stroke-width="0.9"/>
<ellipse cx="1333.4" cy="697.9" rx="13.4" ry="11" fill="url(#sBl)" stroke="#0a2a50" stroke-width="0.5"/><path d="M1320 698.3Q1333.4 700.1 1346.8 698.3M1330.7 687.2Q1326.4 697.9 1330.7 708.6" fill="none" stroke="#101820" stroke-width="0.9"/>
<text x="1326" y="740" font-size="23" text-anchor="middle" fill="#e8413c"><tspan dy="0">Sr</tspan><tspan dy="5.1" font-size="15.6">2</tspan><tspan dy="-5.1">ZnSb</tspan><tspan dy="5.1" font-size="15.6">2</tspan></text>
</svg>
</body></html>
